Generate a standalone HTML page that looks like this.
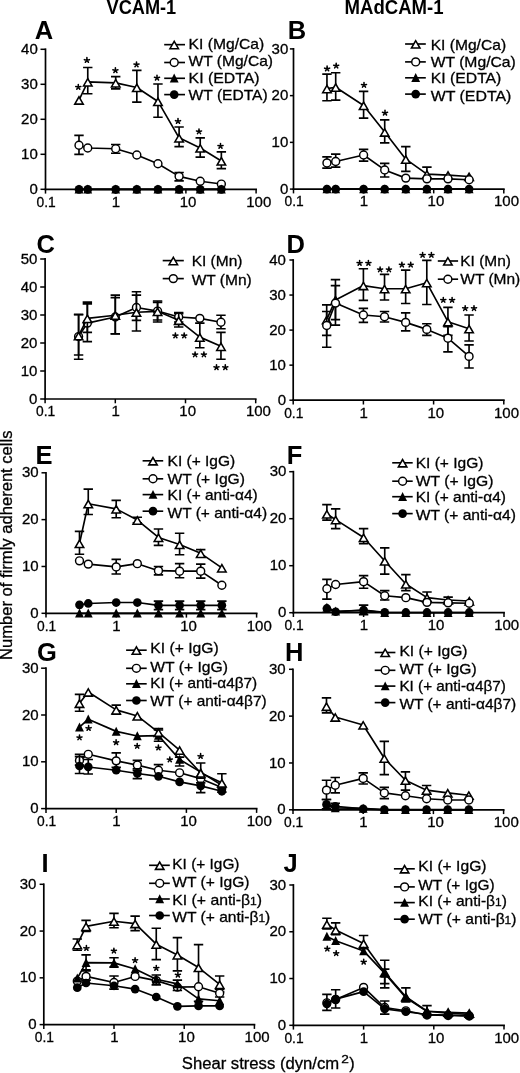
<!DOCTYPE html>
<html><head><meta charset="utf-8"><style>
html,body{margin:0;padding:0;background:#fff;}
svg{display:block;will-change:transform;}
text{font-family:"Liberation Sans",sans-serif;fill:#000;}
.r{stroke:#000;stroke-width:0.3px;}
</style></head><body>
<svg width="520" height="1073" viewBox="0 0 520 1073">
<rect width="520" height="1073" fill="#fff"/>
<path d="M45.5 190.2V48.4" stroke="#000" stroke-width="1.7" fill="none"/>
<path d="M44.6 189.3H257" stroke="#000" stroke-width="1.7" fill="none"/>
<path d="M40.5 189.3H45.5" stroke="#000" stroke-width="1.5"/>
<text transform="translate(37.77 193.96) scale(1 1)" font-size="15" class="r" text-anchor="end">0</text>
<path d="M40.5 154.3H45.5" stroke="#000" stroke-width="1.5"/>
<text transform="translate(37.77 158.96) scale(1 1)" font-size="15" class="r" text-anchor="end">10</text>
<path d="M40.5 119.3H45.5" stroke="#000" stroke-width="1.5"/>
<text transform="translate(37.77 123.96) scale(1 1)" font-size="15" class="r" text-anchor="end">20</text>
<path d="M40.5 84.3H45.5" stroke="#000" stroke-width="1.5"/>
<text transform="translate(37.77 88.96) scale(1 1)" font-size="15" class="r" text-anchor="end">30</text>
<path d="M40.5 49.3H45.5" stroke="#000" stroke-width="1.5"/>
<text transform="translate(37.77 53.96) scale(1 1)" font-size="15" class="r" text-anchor="end">40</text>
<path d="M45.5 189.3V193.6" stroke="#000" stroke-width="1.5"/>
<text x="46.1" y="206.6" font-size="15" class="r" text-anchor="middle" textLength="19.2" lengthAdjust="spacingAndGlyphs">0.1</text>
<path d="M115.7 189.3V193.6" stroke="#000" stroke-width="1.5"/>
<text x="116" y="206.6" font-size="15" class="r" text-anchor="middle">1</text>
<path d="M185.9 189.3V193.6" stroke="#000" stroke-width="1.5"/>
<text x="188.1" y="206.6" font-size="15" class="r" text-anchor="middle">10</text>
<path d="M256.1 189.3V193.6" stroke="#000" stroke-width="1.5"/>
<text x="258.8" y="206.6" font-size="15" class="r" text-anchor="middle">100</text>
<path d="M78.99 100.05 L87.76 81.85 L115.7 82.9 L136.83 87.45 L157.96 101.45 L179.1 137.85 L200.23 148 L221.36 160.95" stroke="#000" stroke-width="1.65" fill="none" stroke-linejoin="round"/>
<path d="M87.76 81.85V67.5 M83.06 67.5H92.46 M87.76 81.85V93.75 M83.06 93.75H92.46" stroke="#000" stroke-width="1.65" fill="none"/>
<path d="M115.7 82.9V76.6 M111 76.6H120.4 M115.7 82.9V88.85 M111 88.85H120.4" stroke="#000" stroke-width="1.65" fill="none"/>
<path d="M136.83 87.45V70.3 M132.13 70.3H141.53 M136.83 87.45V102.15 M132.13 102.15H141.53" stroke="#000" stroke-width="1.65" fill="none"/>
<path d="M157.96 101.45V83.95 M153.26 83.95H162.66 M157.96 101.45V117.2 M153.26 117.2H162.66" stroke="#000" stroke-width="1.65" fill="none"/>
<path d="M179.1 137.85V127 M174.4 127H183.8 M179.1 137.85V146.6 M174.4 146.6H183.8" stroke="#000" stroke-width="1.65" fill="none"/>
<path d="M200.23 148V137.85 M195.53 137.85H204.93 M200.23 148V157.1 M195.53 157.1H204.93" stroke="#000" stroke-width="1.65" fill="none"/>
<path d="M221.36 160.95V151.85 M216.66 151.85H226.06 M221.36 160.95V168.65 M216.66 168.65H226.06" stroke="#000" stroke-width="1.65" fill="none"/>
<polygon points="78.99,96.75 74.74,104.1 83.24,104.1" fill="#fff" stroke="#000" stroke-width="1.55" stroke-linejoin="miter"/>
<polygon points="87.76,78.55 83.51,85.9 92.01,85.9" fill="#fff" stroke="#000" stroke-width="1.55" stroke-linejoin="miter"/>
<polygon points="115.7,79.6 111.45,86.95 119.95,86.95" fill="#fff" stroke="#000" stroke-width="1.55" stroke-linejoin="miter"/>
<polygon points="136.83,84.15 132.58,91.5 141.08,91.5" fill="#fff" stroke="#000" stroke-width="1.55" stroke-linejoin="miter"/>
<polygon points="157.96,98.15 153.71,105.5 162.21,105.5" fill="#fff" stroke="#000" stroke-width="1.55" stroke-linejoin="miter"/>
<polygon points="179.1,134.55 174.85,141.9 183.35,141.9" fill="#fff" stroke="#000" stroke-width="1.55" stroke-linejoin="miter"/>
<polygon points="200.23,144.7 195.98,152.05 204.48,152.05" fill="#fff" stroke="#000" stroke-width="1.55" stroke-linejoin="miter"/>
<polygon points="221.36,157.65 217.11,165 225.61,165" fill="#fff" stroke="#000" stroke-width="1.55" stroke-linejoin="miter"/>
<path d="M78.99 145.2 L87.76 148 L115.7 148.7 L136.83 155 L157.96 163.75 L179.1 176.35 L200.23 181.25 L221.36 184.05" stroke="#000" stroke-width="1.65" fill="none" stroke-linejoin="round"/>
<path d="M78.99 145.2V135.4 M74.29 135.4H83.69 M78.99 145.2V154.3 M74.29 154.3H83.69" stroke="#000" stroke-width="1.65" fill="none"/>
<path d="M115.7 148.7V144.5 M111 144.5H120.4 M115.7 148.7V153.25 M111 153.25H120.4" stroke="#000" stroke-width="1.65" fill="none"/>
<path d="M179.1 176.35V172.5 M174.4 172.5H183.8 M179.1 176.35V180.9 M174.4 180.9H183.8" stroke="#000" stroke-width="1.65" fill="none"/>
<circle cx="78.99" cy="145.2" r="3.95" fill="#fff" stroke="#000" stroke-width="1.45"/>
<circle cx="87.76" cy="148" r="3.95" fill="#fff" stroke="#000" stroke-width="1.45"/>
<circle cx="115.7" cy="148.7" r="3.95" fill="#fff" stroke="#000" stroke-width="1.45"/>
<circle cx="136.83" cy="155" r="3.95" fill="#fff" stroke="#000" stroke-width="1.45"/>
<circle cx="157.96" cy="163.75" r="3.95" fill="#fff" stroke="#000" stroke-width="1.45"/>
<circle cx="179.1" cy="176.35" r="3.95" fill="#fff" stroke="#000" stroke-width="1.45"/>
<circle cx="200.23" cy="181.25" r="3.95" fill="#fff" stroke="#000" stroke-width="1.45"/>
<circle cx="221.36" cy="184.05" r="3.95" fill="#fff" stroke="#000" stroke-width="1.45"/>
<path d="M78.99 189.3 L87.76 189.3 L115.7 189.3 L136.83 189.3 L157.96 189.3 L179.1 189.3 L200.23 189.3 L221.36 189.3" stroke="#000" stroke-width="1.65" fill="none" stroke-linejoin="round"/>
<polygon points="78.99,184.6 74.54,193.55 83.44,193.55" fill="#000"/>
<polygon points="87.76,184.6 83.31,193.55 92.21,193.55" fill="#000"/>
<polygon points="115.7,184.6 111.25,193.55 120.15,193.55" fill="#000"/>
<polygon points="136.83,184.6 132.38,193.55 141.28,193.55" fill="#000"/>
<polygon points="157.96,184.6 153.51,193.55 162.41,193.55" fill="#000"/>
<polygon points="179.1,184.6 174.65,193.55 183.55,193.55" fill="#000"/>
<polygon points="200.23,184.6 195.78,193.55 204.68,193.55" fill="#000"/>
<polygon points="221.36,184.6 216.91,193.55 225.81,193.55" fill="#000"/>
<path d="M78.99 189.3 L87.76 189.3 L115.7 189.3 L136.83 189.3 L157.96 189.3 L179.1 189.3 L200.23 189.3 L221.36 189.3" stroke="#000" stroke-width="1.65" fill="none" stroke-linejoin="round"/>
<circle cx="78.99" cy="189.3" r="4.35" fill="#000"/>
<circle cx="87.76" cy="189.3" r="4.35" fill="#000"/>
<circle cx="115.7" cy="189.3" r="4.35" fill="#000"/>
<circle cx="136.83" cy="189.3" r="4.35" fill="#000"/>
<circle cx="157.96" cy="189.3" r="4.35" fill="#000"/>
<circle cx="179.1" cy="189.3" r="4.35" fill="#000"/>
<circle cx="200.23" cy="189.3" r="4.35" fill="#000"/>
<circle cx="221.36" cy="189.3" r="4.35" fill="#000"/>
<path d="M78.3 87.1L78.3 84.5M78.3 87.1L80.84 86.56M78.3 87.1L79.83 89.2M78.3 87.1L76.77 89.2M78.3 87.1L75.76 86.56" stroke="#000" stroke-width="1.55" stroke-linecap="round" fill="none"/>
<path d="M86.9 60.2L86.9 57.6M86.9 60.2L89.44 59.66M86.9 60.2L88.43 62.3M86.9 60.2L85.37 62.3M86.9 60.2L84.36 59.66" stroke="#000" stroke-width="1.55" stroke-linecap="round" fill="none"/>
<path d="M115.4 70.4L115.4 67.8M115.4 70.4L117.94 69.86M115.4 70.4L116.93 72.5M115.4 70.4L113.87 72.5M115.4 70.4L112.86 69.86" stroke="#000" stroke-width="1.55" stroke-linecap="round" fill="none"/>
<path d="M136.5 64.6L136.5 62M136.5 64.6L139.04 64.06M136.5 64.6L138.03 66.7M136.5 64.6L134.97 66.7M136.5 64.6L133.96 64.06" stroke="#000" stroke-width="1.55" stroke-linecap="round" fill="none"/>
<path d="M157 77.9L157 75.3M157 77.9L159.54 77.36M157 77.9L158.53 80M157 77.9L155.47 80M157 77.9L154.46 77.36" stroke="#000" stroke-width="1.55" stroke-linecap="round" fill="none"/>
<path d="M178 121.2L178 118.6M178 121.2L180.54 120.66M178 121.2L179.53 123.3M178 121.2L176.47 123.3M178 121.2L175.46 120.66" stroke="#000" stroke-width="1.55" stroke-linecap="round" fill="none"/>
<path d="M199 131.5L199 128.9M199 131.5L201.54 130.96M199 131.5L200.53 133.6M199 131.5L197.47 133.6M199 131.5L196.46 130.96" stroke="#000" stroke-width="1.55" stroke-linecap="round" fill="none"/>
<path d="M220.5 146.1L220.5 143.5M220.5 146.1L223.04 145.56M220.5 146.1L222.03 148.2M220.5 146.1L218.97 148.2M220.5 146.1L217.96 145.56" stroke="#000" stroke-width="1.55" stroke-linecap="round" fill="none"/>
<path d="M164.2 44.65H185" stroke="#000" stroke-width="1.65"/>
<polygon points="174.2,41.35 169.95,48.7 178.45,48.7" fill="#fff" stroke="#000" stroke-width="1.55" stroke-linejoin="miter"/>
<text x="188.6" y="48.56" font-size="15" class="r" textLength="75.6" lengthAdjust="spacingAndGlyphs">KI (Mg/Ca)</text>
<path d="M164.2 62.5H185" stroke="#000" stroke-width="1.65"/>
<circle cx="174.2" cy="62.5" r="3.95" fill="#fff" stroke="#000" stroke-width="1.45"/>
<text x="188.6" y="65.91" font-size="15" class="r" textLength="84.4" lengthAdjust="spacingAndGlyphs">WT (Mg/Ca)</text>
<path d="M164.2 78.3H185" stroke="#000" stroke-width="1.65"/>
<polygon points="174.2,73.6 169.75,82.55 178.65,82.55" fill="#000"/>
<text x="188.6" y="83.06" font-size="15" class="r" textLength="71" lengthAdjust="spacingAndGlyphs">KI (EDTA)</text>
<path d="M164.2 94.6H185" stroke="#000" stroke-width="1.65"/>
<circle cx="174.2" cy="94.6" r="4.35" fill="#000"/>
<text x="188.6" y="100.36" font-size="15" class="r" textLength="79.1" lengthAdjust="spacingAndGlyphs">WT (EDTA)</text>
<text x="34.8" y="39.2" font-size="25.5" font-weight="bold">A</text>
<path d="M293.5 190V48" stroke="#000" stroke-width="1.7" fill="none"/>
<path d="M292.6 189.1H504.7" stroke="#000" stroke-width="1.7" fill="none"/>
<path d="M289.9 189.1H293.5" stroke="#000" stroke-width="1.5"/>
<text transform="translate(288.27 193.76) scale(1 1)" font-size="15" class="r" text-anchor="end">0</text>
<path d="M289.9 142.37H293.5" stroke="#000" stroke-width="1.5"/>
<text transform="translate(288.27 147.03) scale(1 1)" font-size="15" class="r" text-anchor="end">10</text>
<path d="M289.9 95.63H293.5" stroke="#000" stroke-width="1.5"/>
<text transform="translate(288.27 100.29) scale(1 1)" font-size="15" class="r" text-anchor="end">20</text>
<path d="M289.9 48.9H293.5" stroke="#000" stroke-width="1.5"/>
<text transform="translate(288.27 53.56) scale(1 1)" font-size="15" class="r" text-anchor="end">30</text>
<path d="M293.5 189.1V193.4" stroke="#000" stroke-width="1.5"/>
<text x="294.1" y="206.4" font-size="15" class="r" text-anchor="middle" textLength="19.2" lengthAdjust="spacingAndGlyphs">0.1</text>
<path d="M363.6 189.1V193.4" stroke="#000" stroke-width="1.5"/>
<text x="363.9" y="206.4" font-size="15" class="r" text-anchor="middle">1</text>
<path d="M433.7 189.1V193.4" stroke="#000" stroke-width="1.5"/>
<text x="435.9" y="206.4" font-size="15" class="r" text-anchor="middle">10</text>
<path d="M503.8 189.1V193.4" stroke="#000" stroke-width="1.5"/>
<text x="506.5" y="206.4" font-size="15" class="r" text-anchor="middle">100</text>
<path d="M326.95 88.62 L335.7 87.22 L363.6 105.45 L384.7 132.09 L405.8 159.19 L426.91 174.15 L448.01 175.08 L469.11 176.48" stroke="#000" stroke-width="1.65" fill="none" stroke-linejoin="round"/>
<path d="M326.95 88.62V74.14 M322.25 74.14H331.65 M326.95 88.62V100.77 M322.25 100.77H331.65" stroke="#000" stroke-width="1.65" fill="none"/>
<path d="M335.7 87.22V72.73 M331 72.73H340.4 M335.7 87.22V100.07 M331 100.07H340.4" stroke="#000" stroke-width="1.65" fill="none"/>
<path d="M363.6 105.45V91.43 M358.9 91.43H368.3 M363.6 105.45V118.07 M358.9 118.07H368.3" stroke="#000" stroke-width="1.65" fill="none"/>
<path d="M384.7 132.09V119.93 M380 119.93H389.4 M384.7 132.09V142.83 M380 142.83H389.4" stroke="#000" stroke-width="1.65" fill="none"/>
<path d="M405.8 159.19V146.57 M401.1 146.57H410.5 M405.8 159.19V171.34 M401.1 171.34H410.5" stroke="#000" stroke-width="1.65" fill="none"/>
<path d="M426.91 174.15V167.14 M422.21 167.14H431.61" stroke="#000" stroke-width="1.65" fill="none"/>
<polygon points="326.95,85.32 322.7,92.67 331.2,92.67" fill="#fff" stroke="#000" stroke-width="1.55" stroke-linejoin="miter"/>
<polygon points="335.7,83.92 331.45,91.27 339.95,91.27" fill="#fff" stroke="#000" stroke-width="1.55" stroke-linejoin="miter"/>
<polygon points="363.6,102.15 359.35,109.5 367.85,109.5" fill="#fff" stroke="#000" stroke-width="1.55" stroke-linejoin="miter"/>
<polygon points="384.7,128.79 380.45,136.14 388.95,136.14" fill="#fff" stroke="#000" stroke-width="1.55" stroke-linejoin="miter"/>
<polygon points="405.8,155.89 401.55,163.24 410.05,163.24" fill="#fff" stroke="#000" stroke-width="1.55" stroke-linejoin="miter"/>
<polygon points="426.91,170.85 422.66,178.2 431.16,178.2" fill="#fff" stroke="#000" stroke-width="1.55" stroke-linejoin="miter"/>
<polygon points="448.01,171.78 443.76,179.13 452.26,179.13" fill="#fff" stroke="#000" stroke-width="1.55" stroke-linejoin="miter"/>
<polygon points="469.11,173.18 464.86,180.53 473.36,180.53" fill="#fff" stroke="#000" stroke-width="1.55" stroke-linejoin="miter"/>
<path d="M326.95 162.93 L335.7 161.53 L363.6 154.98 L384.7 169.94 L405.8 178.12 L426.91 178.82 L448.01 178.82 L469.11 179.75" stroke="#000" stroke-width="1.65" fill="none" stroke-linejoin="round"/>
<path d="M326.95 162.93V156.85 M322.25 156.85H331.65 M326.95 162.93V168.07 M322.25 168.07H331.65" stroke="#000" stroke-width="1.65" fill="none"/>
<path d="M335.7 161.53V154.05 M331 154.05H340.4 M335.7 161.53V167.14 M331 167.14H340.4" stroke="#000" stroke-width="1.65" fill="none"/>
<path d="M363.6 154.98V149.38 M358.9 149.38H368.3 M363.6 154.98V161.06 M358.9 161.06H368.3" stroke="#000" stroke-width="1.65" fill="none"/>
<path d="M384.7 169.94V163.4 M380 163.4H389.4 M384.7 169.94V176.95 M380 176.95H389.4" stroke="#000" stroke-width="1.65" fill="none"/>
<circle cx="326.95" cy="162.93" r="3.95" fill="#fff" stroke="#000" stroke-width="1.45"/>
<circle cx="335.7" cy="161.53" r="3.95" fill="#fff" stroke="#000" stroke-width="1.45"/>
<circle cx="363.6" cy="154.98" r="3.95" fill="#fff" stroke="#000" stroke-width="1.45"/>
<circle cx="384.7" cy="169.94" r="3.95" fill="#fff" stroke="#000" stroke-width="1.45"/>
<circle cx="405.8" cy="178.12" r="3.95" fill="#fff" stroke="#000" stroke-width="1.45"/>
<circle cx="426.91" cy="178.82" r="3.95" fill="#fff" stroke="#000" stroke-width="1.45"/>
<circle cx="448.01" cy="178.82" r="3.95" fill="#fff" stroke="#000" stroke-width="1.45"/>
<circle cx="469.11" cy="179.75" r="3.95" fill="#fff" stroke="#000" stroke-width="1.45"/>
<path d="M326.95 189.1 L335.7 189.1 L363.6 189.1 L384.7 189.1 L405.8 189.1 L426.91 189.1 L448.01 189.1 L469.11 189.1" stroke="#000" stroke-width="1.65" fill="none" stroke-linejoin="round"/>
<polygon points="326.95,184.4 322.5,193.35 331.4,193.35" fill="#000"/>
<polygon points="335.7,184.4 331.25,193.35 340.15,193.35" fill="#000"/>
<polygon points="363.6,184.4 359.15,193.35 368.05,193.35" fill="#000"/>
<polygon points="384.7,184.4 380.25,193.35 389.15,193.35" fill="#000"/>
<polygon points="405.8,184.4 401.35,193.35 410.25,193.35" fill="#000"/>
<polygon points="426.91,184.4 422.46,193.35 431.36,193.35" fill="#000"/>
<polygon points="448.01,184.4 443.56,193.35 452.46,193.35" fill="#000"/>
<polygon points="469.11,184.4 464.66,193.35 473.56,193.35" fill="#000"/>
<path d="M326.95 189.1 L335.7 189.1 L363.6 189.1 L384.7 189.1 L405.8 189.1 L426.91 189.1 L448.01 189.1 L469.11 189.1" stroke="#000" stroke-width="1.65" fill="none" stroke-linejoin="round"/>
<circle cx="326.95" cy="189.1" r="4.35" fill="#000"/>
<circle cx="335.7" cy="189.1" r="4.35" fill="#000"/>
<circle cx="363.6" cy="189.1" r="4.35" fill="#000"/>
<circle cx="384.7" cy="189.1" r="4.35" fill="#000"/>
<circle cx="405.8" cy="189.1" r="4.35" fill="#000"/>
<circle cx="426.91" cy="189.1" r="4.35" fill="#000"/>
<circle cx="448.01" cy="189.1" r="4.35" fill="#000"/>
<circle cx="469.11" cy="189.1" r="4.35" fill="#000"/>
<path d="M327.1 68.7L327.1 66.1M327.1 68.7L329.64 68.16M327.1 68.7L328.63 70.8M327.1 68.7L325.57 70.8M327.1 68.7L324.56 68.16" stroke="#000" stroke-width="1.55" stroke-linecap="round" fill="none"/>
<path d="M336.2 65.8L336.2 63.2M336.2 65.8L338.74 65.26M336.2 65.8L337.73 67.9M336.2 65.8L334.67 67.9M336.2 65.8L333.66 65.26" stroke="#000" stroke-width="1.55" stroke-linecap="round" fill="none"/>
<path d="M364 85L364 82.4M364 85L366.54 84.46M364 85L365.53 87.1M364 85L362.47 87.1M364 85L361.46 84.46" stroke="#000" stroke-width="1.55" stroke-linecap="round" fill="none"/>
<path d="M385 112.9L385 110.3M385 112.9L387.54 112.36M385 112.9L386.53 115M385 112.9L383.47 115M385 112.9L382.46 112.36" stroke="#000" stroke-width="1.55" stroke-linecap="round" fill="none"/>
<path d="M405.1 44H425.8" stroke="#000" stroke-width="1.65"/>
<polygon points="415.7,40.7 411.45,48.05 419.95,48.05" fill="#fff" stroke="#000" stroke-width="1.55" stroke-linejoin="miter"/>
<text x="430.7" y="49.96" font-size="15" class="r" textLength="75.4" lengthAdjust="spacingAndGlyphs">KI (Mg/Ca)</text>
<path d="M405.1 61.9H425.8" stroke="#000" stroke-width="1.65"/>
<circle cx="415.7" cy="61.9" r="3.95" fill="#fff" stroke="#000" stroke-width="1.45"/>
<text x="430.7" y="66.96" font-size="15" class="r" textLength="85.1" lengthAdjust="spacingAndGlyphs">WT (Mg/Ca)</text>
<path d="M405.1 77.8H425.8" stroke="#000" stroke-width="1.65"/>
<polygon points="415.7,73.1 411.25,82.05 420.15,82.05" fill="#000"/>
<text x="430.7" y="83.36" font-size="15" class="r" textLength="70.7" lengthAdjust="spacingAndGlyphs">KI (EDTA)</text>
<path d="M405.1 94.1H425.8" stroke="#000" stroke-width="1.65"/>
<circle cx="415.7" cy="94.1" r="4.35" fill="#000"/>
<text x="430.7" y="101.26" font-size="15" class="r" textLength="80.7" lengthAdjust="spacingAndGlyphs">WT (EDTA)</text>
<text x="287.7" y="39.1" font-size="25.5" font-weight="bold">B</text>
<path d="M45.1 399.9V258.1" stroke="#000" stroke-width="1.7" fill="none"/>
<path d="M44.2 399H256.6" stroke="#000" stroke-width="1.7" fill="none"/>
<path d="M40.2 399H45.1" stroke="#000" stroke-width="1.5"/>
<text transform="translate(37.37 403.66) scale(1 1)" font-size="15" class="r" text-anchor="end">0</text>
<path d="M40.2 371H45.1" stroke="#000" stroke-width="1.5"/>
<text transform="translate(37.37 375.66) scale(1 1)" font-size="15" class="r" text-anchor="end">10</text>
<path d="M40.2 343H45.1" stroke="#000" stroke-width="1.5"/>
<text transform="translate(37.37 347.66) scale(1 1)" font-size="15" class="r" text-anchor="end">20</text>
<path d="M40.2 315H45.1" stroke="#000" stroke-width="1.5"/>
<text transform="translate(37.37 319.66) scale(1 1)" font-size="15" class="r" text-anchor="end">30</text>
<path d="M40.2 287H45.1" stroke="#000" stroke-width="1.5"/>
<text transform="translate(37.37 291.66) scale(1 1)" font-size="15" class="r" text-anchor="end">40</text>
<path d="M40.2 259H45.1" stroke="#000" stroke-width="1.5"/>
<text transform="translate(37.37 263.66) scale(1 1)" font-size="15" class="r" text-anchor="end">50</text>
<path d="M45.1 399V403.3" stroke="#000" stroke-width="1.5"/>
<text x="45.7" y="416.3" font-size="15" class="r" text-anchor="middle" textLength="19.2" lengthAdjust="spacingAndGlyphs">0.1</text>
<path d="M115.3 399V403.3" stroke="#000" stroke-width="1.5"/>
<text x="115.6" y="416.3" font-size="15" class="r" text-anchor="middle">1</text>
<path d="M185.5 399V403.3" stroke="#000" stroke-width="1.5"/>
<text x="187.7" y="416.3" font-size="15" class="r" text-anchor="middle">10</text>
<path d="M255.7 399V403.3" stroke="#000" stroke-width="1.5"/>
<text x="258.4" y="416.3" font-size="15" class="r" text-anchor="middle">100</text>
<path d="M78.59 336.56 L87.36 323.12 L115.3 316.96 L136.43 307.44 L157.56 311.08 L178.7 316.96 L199.83 318.36 L220.96 322.28" stroke="#000" stroke-width="1.65" fill="none" stroke-linejoin="round"/>
<path d="M78.59 336.56V314.72 M73.89 314.72H83.29 M78.59 336.56V355.04 M73.89 355.04H83.29" stroke="#000" stroke-width="1.65" fill="none"/>
<path d="M87.36 323.12V303.8 M82.66 303.8H92.06 M87.36 323.12V332.36 M82.66 332.36H92.06" stroke="#000" stroke-width="1.65" fill="none"/>
<path d="M115.3 316.96V297.64 M110.6 297.64H120 M115.3 316.96V333.76 M110.6 333.76H120" stroke="#000" stroke-width="1.65" fill="none"/>
<path d="M136.43 307.44V291.76 M131.73 291.76H141.13 M136.43 307.44V320.32 M131.73 320.32H141.13" stroke="#000" stroke-width="1.65" fill="none"/>
<path d="M157.56 311.08V302.4 M152.86 302.4H162.26 M157.56 311.08V320.04 M152.86 320.04H162.26" stroke="#000" stroke-width="1.65" fill="none"/>
<path d="M178.7 316.96V313.6 M174 313.6H183.4 M178.7 316.96V322 M174 322H183.4" stroke="#000" stroke-width="1.65" fill="none"/>
<path d="M220.96 322.28V315.28 M216.26 315.28H225.66 M220.96 322.28V328.72 M216.26 328.72H225.66" stroke="#000" stroke-width="1.65" fill="none"/>
<circle cx="78.59" cy="336.56" r="3.95" fill="#fff" stroke="#000" stroke-width="1.45"/>
<circle cx="87.36" cy="323.12" r="3.95" fill="#fff" stroke="#000" stroke-width="1.45"/>
<circle cx="115.3" cy="316.96" r="3.95" fill="#fff" stroke="#000" stroke-width="1.45"/>
<circle cx="136.43" cy="307.44" r="3.95" fill="#fff" stroke="#000" stroke-width="1.45"/>
<circle cx="157.56" cy="311.08" r="3.95" fill="#fff" stroke="#000" stroke-width="1.45"/>
<circle cx="178.7" cy="316.96" r="3.95" fill="#fff" stroke="#000" stroke-width="1.45"/>
<circle cx="199.83" cy="318.36" r="3.95" fill="#fff" stroke="#000" stroke-width="1.45"/>
<circle cx="220.96" cy="322.28" r="3.95" fill="#fff" stroke="#000" stroke-width="1.45"/>
<path d="M78.59 335.72 L87.36 318.36 L115.3 315.28 L136.43 312.2 L157.56 311.36 L178.7 320.32 L199.83 337.12 L220.96 346.36" stroke="#000" stroke-width="1.65" fill="none" stroke-linejoin="round"/>
<path d="M78.59 335.72V314.44 M73.89 314.44H83.29 M78.59 335.72V359.24 M73.89 359.24H83.29" stroke="#000" stroke-width="1.65" fill="none"/>
<path d="M87.36 318.36V302.12 M82.66 302.12H92.06 M87.36 318.36V341.6 M82.66 341.6H92.06" stroke="#000" stroke-width="1.65" fill="none"/>
<path d="M115.3 315.28V295.12 M110.6 295.12H120 M115.3 315.28V334.04 M110.6 334.04H120" stroke="#000" stroke-width="1.65" fill="none"/>
<path d="M136.43 312.2V295.12 M131.73 295.12H141.13 M136.43 312.2V330.96 M131.73 330.96H141.13" stroke="#000" stroke-width="1.65" fill="none"/>
<path d="M157.56 311.36V301 M152.86 301H162.26 M157.56 311.36V322 M152.86 322H162.26" stroke="#000" stroke-width="1.65" fill="none"/>
<path d="M178.7 320.32V312.48 M174 312.48H183.4 M178.7 320.32V327.04 M174 327.04H183.4" stroke="#000" stroke-width="1.65" fill="none"/>
<path d="M199.83 337.12V323.12 M195.13 323.12H204.53 M199.83 337.12V347.76 M195.13 347.76H204.53" stroke="#000" stroke-width="1.65" fill="none"/>
<path d="M220.96 346.36V332.36 M216.26 332.36H225.66 M220.96 346.36V359.24 M216.26 359.24H225.66" stroke="#000" stroke-width="1.65" fill="none"/>
<polygon points="78.59,332.42 74.34,339.77 82.84,339.77" fill="#fff" stroke="#000" stroke-width="1.55" stroke-linejoin="miter"/>
<polygon points="87.36,315.06 83.11,322.41 91.61,322.41" fill="#fff" stroke="#000" stroke-width="1.55" stroke-linejoin="miter"/>
<polygon points="115.3,311.98 111.05,319.33 119.55,319.33" fill="#fff" stroke="#000" stroke-width="1.55" stroke-linejoin="miter"/>
<polygon points="136.43,308.9 132.18,316.25 140.68,316.25" fill="#fff" stroke="#000" stroke-width="1.55" stroke-linejoin="miter"/>
<polygon points="157.56,308.06 153.31,315.41 161.81,315.41" fill="#fff" stroke="#000" stroke-width="1.55" stroke-linejoin="miter"/>
<polygon points="178.7,317.02 174.45,324.37 182.95,324.37" fill="#fff" stroke="#000" stroke-width="1.55" stroke-linejoin="miter"/>
<polygon points="199.83,333.82 195.58,341.17 204.08,341.17" fill="#fff" stroke="#000" stroke-width="1.55" stroke-linejoin="miter"/>
<polygon points="220.96,343.06 216.71,350.41 225.21,350.41" fill="#fff" stroke="#000" stroke-width="1.55" stroke-linejoin="miter"/>
<path d="M175.4 335.6L175.4 333M175.4 335.6L177.94 335.06M175.4 335.6L176.93 337.7M175.4 335.6L173.87 337.7M175.4 335.6L172.86 335.06" stroke="#000" stroke-width="1.55" stroke-linecap="round" fill="none"/>
<path d="M184.2 335.6L184.2 333M184.2 335.6L186.74 335.06M184.2 335.6L185.73 337.7M184.2 335.6L182.67 337.7M184.2 335.6L181.66 335.06" stroke="#000" stroke-width="1.55" stroke-linecap="round" fill="none"/>
<path d="M195.1 354.5L195.1 351.9M195.1 354.5L197.64 353.96M195.1 354.5L196.63 356.6M195.1 354.5L193.57 356.6M195.1 354.5L192.56 353.96" stroke="#000" stroke-width="1.55" stroke-linecap="round" fill="none"/>
<path d="M203.9 354.5L203.9 351.9M203.9 354.5L206.44 353.96M203.9 354.5L205.43 356.6M203.9 354.5L202.37 356.6M203.9 354.5L201.36 353.96" stroke="#000" stroke-width="1.55" stroke-linecap="round" fill="none"/>
<path d="M216.5 367.4L216.5 364.8M216.5 367.4L219.04 366.86M216.5 367.4L218.03 369.5M216.5 367.4L214.97 369.5M216.5 367.4L213.96 366.86" stroke="#000" stroke-width="1.55" stroke-linecap="round" fill="none"/>
<path d="M225.3 367.4L225.3 364.8M225.3 367.4L227.84 366.86M225.3 367.4L226.83 369.5M225.3 367.4L223.77 369.5M225.3 367.4L222.76 366.86" stroke="#000" stroke-width="1.55" stroke-linecap="round" fill="none"/>
<path d="M162.7 260.6H183.8" stroke="#000" stroke-width="1.65"/>
<polygon points="173.3,257.3 169.05,264.65 177.55,264.65" fill="#fff" stroke="#000" stroke-width="1.55" stroke-linejoin="miter"/>
<text x="191.7" y="265.76" font-size="15" class="r" textLength="50.7" lengthAdjust="spacingAndGlyphs">KI (Mn)</text>
<path d="M162.7 278.6H183.8" stroke="#000" stroke-width="1.65"/>
<circle cx="173.3" cy="278.6" r="3.95" fill="#fff" stroke="#000" stroke-width="1.45"/>
<text x="191.7" y="284.66" font-size="15" class="r" textLength="60.1" lengthAdjust="spacingAndGlyphs">WT (Mn)</text>
<text x="36.4" y="252.6" font-size="25.5" font-weight="bold">C</text>
<path d="M293.2 401.1V259.1" stroke="#000" stroke-width="1.7" fill="none"/>
<path d="M292.3 400.2H504.7" stroke="#000" stroke-width="1.7" fill="none"/>
<path d="M289.4 400.2H293.2" stroke="#000" stroke-width="1.5"/>
<text transform="translate(285.97 404.86) scale(1 1)" font-size="15" class="r" text-anchor="end">0</text>
<path d="M289.4 365.15H293.2" stroke="#000" stroke-width="1.5"/>
<text transform="translate(285.97 369.81) scale(1 1)" font-size="15" class="r" text-anchor="end">10</text>
<path d="M289.4 330.1H293.2" stroke="#000" stroke-width="1.5"/>
<text transform="translate(285.97 334.76) scale(1 1)" font-size="15" class="r" text-anchor="end">20</text>
<path d="M289.4 295.05H293.2" stroke="#000" stroke-width="1.5"/>
<text transform="translate(285.97 299.71) scale(1 1)" font-size="15" class="r" text-anchor="end">30</text>
<path d="M289.4 260H293.2" stroke="#000" stroke-width="1.5"/>
<text transform="translate(285.97 264.66) scale(1 1)" font-size="15" class="r" text-anchor="end">40</text>
<path d="M293.2 400.2V404.5" stroke="#000" stroke-width="1.5"/>
<text x="293.8" y="417.5" font-size="15" class="r" text-anchor="middle" textLength="19.2" lengthAdjust="spacingAndGlyphs">0.1</text>
<path d="M363.4 400.2V404.5" stroke="#000" stroke-width="1.5"/>
<text x="363.7" y="417.5" font-size="15" class="r" text-anchor="middle">1</text>
<path d="M433.6 400.2V404.5" stroke="#000" stroke-width="1.5"/>
<text x="435.8" y="417.5" font-size="15" class="r" text-anchor="middle">10</text>
<path d="M503.8 400.2V404.5" stroke="#000" stroke-width="1.5"/>
<text x="506.5" y="417.5" font-size="15" class="r" text-anchor="middle">100</text>
<path d="M326.69 319.58 L335.46 299.96 L363.4 285.59 L384.53 288.74 L405.66 288.74 L426.8 282.78 L447.93 321.69 L469.06 328.7" stroke="#000" stroke-width="1.65" fill="none" stroke-linejoin="round"/>
<path d="M326.69 319.58V304.86 M321.99 304.86H331.39 M326.69 319.58V335.36 M321.99 335.36H331.39" stroke="#000" stroke-width="1.65" fill="none"/>
<path d="M335.46 299.96V279.63 M330.76 279.63H340.16 M335.46 299.96V325.19 M330.76 325.19H340.16" stroke="#000" stroke-width="1.65" fill="none"/>
<path d="M363.4 285.59V268.76 M358.7 268.76H368.1 M363.4 285.59V300.31 M358.7 300.31H368.1" stroke="#000" stroke-width="1.65" fill="none"/>
<path d="M384.53 288.74V274.37 M379.83 274.37H389.23 M384.53 288.74V299.96 M379.83 299.96H389.23" stroke="#000" stroke-width="1.65" fill="none"/>
<path d="M405.66 288.74V270.16 M400.96 270.16H410.36 M405.66 288.74V303.46 M400.96 303.46H410.36" stroke="#000" stroke-width="1.65" fill="none"/>
<path d="M426.8 282.78V260.35 M422.1 260.35H431.5 M426.8 282.78V304.51 M422.1 304.51H431.5" stroke="#000" stroke-width="1.65" fill="none"/>
<path d="M447.93 321.69V307.32 M443.23 307.32H452.63 M447.93 321.69V335.36 M443.23 335.36H452.63" stroke="#000" stroke-width="1.65" fill="none"/>
<path d="M469.06 328.7V315.03 M464.36 315.03H473.76 M469.06 328.7V340.97 M464.36 340.97H473.76" stroke="#000" stroke-width="1.65" fill="none"/>
<polygon points="326.69,316.28 322.44,323.63 330.94,323.63" fill="#fff" stroke="#000" stroke-width="1.55" stroke-linejoin="miter"/>
<polygon points="335.46,296.66 331.21,304.01 339.71,304.01" fill="#fff" stroke="#000" stroke-width="1.55" stroke-linejoin="miter"/>
<polygon points="363.4,282.29 359.15,289.64 367.65,289.64" fill="#fff" stroke="#000" stroke-width="1.55" stroke-linejoin="miter"/>
<polygon points="384.53,285.44 380.28,292.79 388.78,292.79" fill="#fff" stroke="#000" stroke-width="1.55" stroke-linejoin="miter"/>
<polygon points="405.66,285.44 401.41,292.79 409.91,292.79" fill="#fff" stroke="#000" stroke-width="1.55" stroke-linejoin="miter"/>
<polygon points="426.8,279.48 422.55,286.83 431.05,286.83" fill="#fff" stroke="#000" stroke-width="1.55" stroke-linejoin="miter"/>
<polygon points="447.93,318.39 443.68,325.74 452.18,325.74" fill="#fff" stroke="#000" stroke-width="1.55" stroke-linejoin="miter"/>
<polygon points="469.06,325.4 464.81,332.75 473.31,332.75" fill="#fff" stroke="#000" stroke-width="1.55" stroke-linejoin="miter"/>
<path d="M326.69 325.54 L335.46 303.11 L363.4 315.03 L384.53 316.78 L405.66 322.39 L426.8 329.4 L447.93 338.16 L469.06 356.39" stroke="#000" stroke-width="1.65" fill="none" stroke-linejoin="round"/>
<path d="M326.69 325.54V311.52 M321.99 311.52H331.39 M326.69 325.54V347.27 M321.99 347.27H331.39" stroke="#000" stroke-width="1.65" fill="none"/>
<path d="M335.46 303.11V285.59 M330.76 285.59H340.16 M335.46 303.11V319.58 M330.76 319.58H340.16" stroke="#000" stroke-width="1.65" fill="none"/>
<path d="M363.4 315.03V308.37 M358.7 308.37H368.1 M363.4 315.03V322.39 M358.7 322.39H368.1" stroke="#000" stroke-width="1.65" fill="none"/>
<path d="M384.53 316.78V311.52 M379.83 311.52H389.23 M384.53 316.78V322.04 M379.83 322.04H389.23" stroke="#000" stroke-width="1.65" fill="none"/>
<path d="M405.66 322.39V312.93 M400.96 312.93H410.36 M405.66 322.39V330.8 M400.96 330.8H410.36" stroke="#000" stroke-width="1.65" fill="none"/>
<path d="M426.8 329.4V323.79 M422.1 323.79H431.5 M426.8 329.4V335.36 M422.1 335.36H431.5" stroke="#000" stroke-width="1.65" fill="none"/>
<path d="M447.93 338.16V326.59 M443.23 326.59H452.63 M447.93 338.16V351.83 M443.23 351.83H452.63" stroke="#000" stroke-width="1.65" fill="none"/>
<path d="M469.06 356.39V344.82 M464.36 344.82H473.76 M469.06 356.39V367.95 M464.36 367.95H473.76" stroke="#000" stroke-width="1.65" fill="none"/>
<circle cx="326.69" cy="325.54" r="3.95" fill="#fff" stroke="#000" stroke-width="1.45"/>
<circle cx="335.46" cy="303.11" r="3.95" fill="#fff" stroke="#000" stroke-width="1.45"/>
<circle cx="363.4" cy="315.03" r="3.95" fill="#fff" stroke="#000" stroke-width="1.45"/>
<circle cx="384.53" cy="316.78" r="3.95" fill="#fff" stroke="#000" stroke-width="1.45"/>
<circle cx="405.66" cy="322.39" r="3.95" fill="#fff" stroke="#000" stroke-width="1.45"/>
<circle cx="426.8" cy="329.4" r="3.95" fill="#fff" stroke="#000" stroke-width="1.45"/>
<circle cx="447.93" cy="338.16" r="3.95" fill="#fff" stroke="#000" stroke-width="1.45"/>
<circle cx="469.06" cy="356.39" r="3.95" fill="#fff" stroke="#000" stroke-width="1.45"/>
<path d="M359.6 263.1L359.6 260.5M359.6 263.1L362.14 262.56M359.6 263.1L361.13 265.2M359.6 263.1L358.07 265.2M359.6 263.1L357.06 262.56" stroke="#000" stroke-width="1.55" stroke-linecap="round" fill="none"/>
<path d="M368.4 263.1L368.4 260.5M368.4 263.1L370.94 262.56M368.4 263.1L369.93 265.2M368.4 263.1L366.87 265.2M368.4 263.1L365.86 262.56" stroke="#000" stroke-width="1.55" stroke-linecap="round" fill="none"/>
<path d="M380.1 269.5L380.1 266.9M380.1 269.5L382.64 268.96M380.1 269.5L381.63 271.6M380.1 269.5L378.57 271.6M380.1 269.5L377.56 268.96" stroke="#000" stroke-width="1.55" stroke-linecap="round" fill="none"/>
<path d="M388.9 269.5L388.9 266.9M388.9 269.5L391.44 268.96M388.9 269.5L390.43 271.6M388.9 269.5L387.37 271.6M388.9 269.5L386.36 268.96" stroke="#000" stroke-width="1.55" stroke-linecap="round" fill="none"/>
<path d="M401.9 264.8L401.9 262.2M401.9 264.8L404.44 264.26M401.9 264.8L403.43 266.9M401.9 264.8L400.37 266.9M401.9 264.8L399.36 264.26" stroke="#000" stroke-width="1.55" stroke-linecap="round" fill="none"/>
<path d="M410.7 264.8L410.7 262.2M410.7 264.8L413.24 264.26M410.7 264.8L412.23 266.9M410.7 264.8L409.17 266.9M410.7 264.8L408.16 264.26" stroke="#000" stroke-width="1.55" stroke-linecap="round" fill="none"/>
<path d="M422.6 255L422.6 252.4M422.6 255L425.14 254.46M422.6 255L424.13 257.1M422.6 255L421.07 257.1M422.6 255L420.06 254.46" stroke="#000" stroke-width="1.55" stroke-linecap="round" fill="none"/>
<path d="M431.4 255L431.4 252.4M431.4 255L433.94 254.46M431.4 255L432.93 257.1M431.4 255L429.87 257.1M431.4 255L428.86 254.46" stroke="#000" stroke-width="1.55" stroke-linecap="round" fill="none"/>
<path d="M443.3 300L443.3 297.4M443.3 300L445.84 299.46M443.3 300L444.83 302.1M443.3 300L441.77 302.1M443.3 300L440.76 299.46" stroke="#000" stroke-width="1.55" stroke-linecap="round" fill="none"/>
<path d="M452.1 300L452.1 297.4M452.1 300L454.64 299.46M452.1 300L453.63 302.1M452.1 300L450.57 302.1M452.1 300L449.56 299.46" stroke="#000" stroke-width="1.55" stroke-linecap="round" fill="none"/>
<path d="M465.2 308.3L465.2 305.7M465.2 308.3L467.74 307.76M465.2 308.3L466.73 310.4M465.2 308.3L463.67 310.4M465.2 308.3L462.66 307.76" stroke="#000" stroke-width="1.55" stroke-linecap="round" fill="none"/>
<path d="M474 308.3L474 305.7M474 308.3L476.54 307.76M474 308.3L475.53 310.4M474 308.3L472.47 310.4M474 308.3L471.46 307.76" stroke="#000" stroke-width="1.55" stroke-linecap="round" fill="none"/>
<path d="M437.8 261H458.1" stroke="#000" stroke-width="1.65"/>
<polygon points="447.9,257.7 443.65,265.05 452.15,265.05" fill="#fff" stroke="#000" stroke-width="1.55" stroke-linejoin="miter"/>
<text x="460.3" y="265.96" font-size="15" class="r" textLength="50.6" lengthAdjust="spacingAndGlyphs">KI (Mn)</text>
<path d="M437.8 279.2H458.1" stroke="#000" stroke-width="1.65"/>
<circle cx="447.9" cy="279.2" r="3.95" fill="#fff" stroke="#000" stroke-width="1.45"/>
<text x="460.3" y="284.36" font-size="15" class="r" textLength="59.9" lengthAdjust="spacingAndGlyphs">WT (Mn)</text>
<text x="286.4" y="252.8" font-size="25.5" font-weight="bold">D</text>
<path d="M46 614.2V471.9" stroke="#000" stroke-width="1.7" fill="none"/>
<path d="M45.1 613.3H257.5" stroke="#000" stroke-width="1.7" fill="none"/>
<path d="M41.5 613.3H46" stroke="#000" stroke-width="1.5"/>
<text transform="translate(38.67 617.96) scale(1 1)" font-size="15" class="r" text-anchor="end">0</text>
<path d="M41.5 566.47H46" stroke="#000" stroke-width="1.5"/>
<text transform="translate(38.67 571.13) scale(1 1)" font-size="15" class="r" text-anchor="end">10</text>
<path d="M41.5 519.63H46" stroke="#000" stroke-width="1.5"/>
<text transform="translate(38.67 524.29) scale(1 1)" font-size="15" class="r" text-anchor="end">20</text>
<path d="M41.5 472.8H46" stroke="#000" stroke-width="1.5"/>
<text transform="translate(38.67 477.46) scale(1 1)" font-size="15" class="r" text-anchor="end">30</text>
<path d="M46 613.3V617.6" stroke="#000" stroke-width="1.5"/>
<text x="46.6" y="630.6" font-size="15" class="r" text-anchor="middle" textLength="19.2" lengthAdjust="spacingAndGlyphs">0.1</text>
<path d="M116.2 613.3V617.6" stroke="#000" stroke-width="1.5"/>
<text x="116.5" y="630.6" font-size="15" class="r" text-anchor="middle">1</text>
<path d="M186.4 613.3V617.6" stroke="#000" stroke-width="1.5"/>
<text x="188.6" y="630.6" font-size="15" class="r" text-anchor="middle">10</text>
<path d="M256.6 613.3V617.6" stroke="#000" stroke-width="1.5"/>
<text x="259.3" y="630.6" font-size="15" class="r" text-anchor="middle">100</text>
<path d="M79.49 543.52 L88.26 503.71 L116.2 508.86 L137.33 520.1 L158.46 537.43 L179.6 544.45 L200.73 553.35 L221.86 567.87" stroke="#000" stroke-width="1.65" fill="none" stroke-linejoin="round"/>
<path d="M79.49 543.52V531.34 M74.79 531.34H84.19 M79.49 543.52V554.29 M74.79 554.29H84.19" stroke="#000" stroke-width="1.65" fill="none"/>
<path d="M88.26 503.71V489.19 M83.56 489.19H92.96 M88.26 503.71V514.48 M83.56 514.48H92.96" stroke="#000" stroke-width="1.65" fill="none"/>
<path d="M116.2 508.86V500.43 M111.5 500.43H120.9 M116.2 508.86V517.76 M111.5 517.76H120.9" stroke="#000" stroke-width="1.65" fill="none"/>
<path d="M137.33 520.1V517.29 M132.63 517.29H142.03 M137.33 520.1V522.91 M132.63 522.91H142.03" stroke="#000" stroke-width="1.65" fill="none"/>
<path d="M158.46 537.43V529 M153.76 529H163.16 M158.46 537.43V545.39 M153.76 545.39H163.16" stroke="#000" stroke-width="1.65" fill="none"/>
<path d="M179.6 544.45V533.21 M174.9 533.21H184.3 M179.6 544.45V554.76 M174.9 554.76H184.3" stroke="#000" stroke-width="1.65" fill="none"/>
<path d="M200.73 553.35V549.61 M196.03 549.61H205.43 M200.73 553.35V557.1 M196.03 557.1H205.43" stroke="#000" stroke-width="1.65" fill="none"/>
<polygon points="79.49,540.22 75.24,547.57 83.74,547.57" fill="#fff" stroke="#000" stroke-width="1.55" stroke-linejoin="miter"/>
<polygon points="88.26,500.41 84.01,507.76 92.51,507.76" fill="#fff" stroke="#000" stroke-width="1.55" stroke-linejoin="miter"/>
<polygon points="116.2,505.56 111.95,512.91 120.45,512.91" fill="#fff" stroke="#000" stroke-width="1.55" stroke-linejoin="miter"/>
<polygon points="137.33,516.8 133.08,524.15 141.58,524.15" fill="#fff" stroke="#000" stroke-width="1.55" stroke-linejoin="miter"/>
<polygon points="158.46,534.13 154.21,541.48 162.71,541.48" fill="#fff" stroke="#000" stroke-width="1.55" stroke-linejoin="miter"/>
<polygon points="179.6,541.15 175.35,548.5 183.85,548.5" fill="#fff" stroke="#000" stroke-width="1.55" stroke-linejoin="miter"/>
<polygon points="200.73,550.05 196.48,557.4 204.98,557.4" fill="#fff" stroke="#000" stroke-width="1.55" stroke-linejoin="miter"/>
<polygon points="221.86,564.57 217.61,571.92 226.11,571.92" fill="#fff" stroke="#000" stroke-width="1.55" stroke-linejoin="miter"/>
<path d="M79.49 560.85 L88.26 564.12 L116.2 566.93 L137.33 563.66 L158.46 570.68 L179.6 571.15 L200.73 571.15 L221.86 585.2" stroke="#000" stroke-width="1.65" fill="none" stroke-linejoin="round"/>
<path d="M116.2 566.93V559.44 M111.5 559.44H120.9 M116.2 566.93V573.96 M111.5 573.96H120.9" stroke="#000" stroke-width="1.65" fill="none"/>
<path d="M158.46 570.68V566.47 M153.76 566.47H163.16 M158.46 570.68V574.9 M153.76 574.9H163.16" stroke="#000" stroke-width="1.65" fill="none"/>
<path d="M179.6 571.15V563.66 M174.9 563.66H184.3 M179.6 571.15V577.71 M174.9 577.71H184.3" stroke="#000" stroke-width="1.65" fill="none"/>
<path d="M200.73 571.15V564.12 M196.03 564.12H205.43 M200.73 571.15V578.17 M196.03 578.17H205.43" stroke="#000" stroke-width="1.65" fill="none"/>
<circle cx="79.49" cy="560.85" r="3.95" fill="#fff" stroke="#000" stroke-width="1.45"/>
<circle cx="88.26" cy="564.12" r="3.95" fill="#fff" stroke="#000" stroke-width="1.45"/>
<circle cx="116.2" cy="566.93" r="3.95" fill="#fff" stroke="#000" stroke-width="1.45"/>
<circle cx="137.33" cy="563.66" r="3.95" fill="#fff" stroke="#000" stroke-width="1.45"/>
<circle cx="158.46" cy="570.68" r="3.95" fill="#fff" stroke="#000" stroke-width="1.45"/>
<circle cx="179.6" cy="571.15" r="3.95" fill="#fff" stroke="#000" stroke-width="1.45"/>
<circle cx="200.73" cy="571.15" r="3.95" fill="#fff" stroke="#000" stroke-width="1.45"/>
<circle cx="221.86" cy="585.2" r="3.95" fill="#fff" stroke="#000" stroke-width="1.45"/>
<path d="M79.49 613.3 L88.26 613.3 L116.2 613.3 L137.33 613.3 L158.46 613.3 L179.6 613.3 L200.73 613.3 L221.86 613.3" stroke="#000" stroke-width="1.65" fill="none" stroke-linejoin="round"/>
<polygon points="79.49,608.6 75.04,617.55 83.94,617.55" fill="#000"/>
<polygon points="88.26,608.6 83.81,617.55 92.71,617.55" fill="#000"/>
<polygon points="116.2,608.6 111.75,617.55 120.65,617.55" fill="#000"/>
<polygon points="137.33,608.6 132.88,617.55 141.78,617.55" fill="#000"/>
<polygon points="158.46,608.6 154.01,617.55 162.91,617.55" fill="#000"/>
<polygon points="179.6,608.6 175.15,617.55 184.05,617.55" fill="#000"/>
<polygon points="200.73,608.6 196.28,617.55 205.18,617.55" fill="#000"/>
<polygon points="221.86,608.6 217.41,617.55 226.31,617.55" fill="#000"/>
<path d="M79.49 604.87 L88.26 603.46 L116.2 602.53 L137.33 602.53 L158.46 605.34 L179.6 605.34 L200.73 605.34 L221.86 605.34" stroke="#000" stroke-width="1.65" fill="none" stroke-linejoin="round"/>
<path d="M158.46 605.34V601.12 M153.76 601.12H163.16 M158.46 605.34V609.55 M153.76 609.55H163.16" stroke="#000" stroke-width="1.65" fill="none"/>
<path d="M179.6 605.34V601.12 M174.9 601.12H184.3 M179.6 605.34V609.55 M174.9 609.55H184.3" stroke="#000" stroke-width="1.65" fill="none"/>
<path d="M200.73 605.34V601.12 M196.03 601.12H205.43 M200.73 605.34V609.55 M196.03 609.55H205.43" stroke="#000" stroke-width="1.65" fill="none"/>
<path d="M221.86 605.34V601.12 M217.16 601.12H226.56 M221.86 605.34V609.55 M217.16 609.55H226.56" stroke="#000" stroke-width="1.65" fill="none"/>
<circle cx="79.49" cy="604.87" r="4.35" fill="#000"/>
<circle cx="88.26" cy="603.46" r="4.35" fill="#000"/>
<circle cx="116.2" cy="602.53" r="4.35" fill="#000"/>
<circle cx="137.33" cy="602.53" r="4.35" fill="#000"/>
<circle cx="158.46" cy="605.34" r="4.35" fill="#000"/>
<circle cx="179.6" cy="605.34" r="4.35" fill="#000"/>
<circle cx="200.73" cy="605.34" r="4.35" fill="#000"/>
<circle cx="221.86" cy="605.34" r="4.35" fill="#000"/>
<path d="M142.6 460.8H163.2" stroke="#000" stroke-width="1.65"/>
<polygon points="153,457.5 148.75,464.85 157.25,464.85" fill="#fff" stroke="#000" stroke-width="1.55" stroke-linejoin="miter"/>
<text x="167.6" y="465.51" font-size="15" class="r" textLength="67.6" lengthAdjust="spacingAndGlyphs">KI (+ IgG)</text>
<path d="M142.6 478.8H163.2" stroke="#000" stroke-width="1.65"/>
<circle cx="153" cy="478.8" r="3.95" fill="#fff" stroke="#000" stroke-width="1.45"/>
<text x="167.6" y="483.71" font-size="15" class="r" textLength="77.3" lengthAdjust="spacingAndGlyphs">WT (+ IgG)</text>
<path d="M142.6 494.6H163.2" stroke="#000" stroke-width="1.65"/>
<polygon points="153,489.9 148.55,498.85 157.45,498.85" fill="#000"/>
<text x="167.6" y="500.11" font-size="15" class="r" textLength="90.1" lengthAdjust="spacingAndGlyphs">KI (+ anti-&#945;4)</text>
<path d="M142.6 511.2H163.2" stroke="#000" stroke-width="1.65"/>
<circle cx="153" cy="511.2" r="4.35" fill="#000"/>
<text x="167.6" y="518.41" font-size="15" class="r" textLength="99.5" lengthAdjust="spacingAndGlyphs">WT (+ anti-&#945;4)</text>
<text x="35.6" y="463.6" font-size="25.5" font-weight="bold">E</text>
<path d="M293.4 613.6V470.8" stroke="#000" stroke-width="1.7" fill="none"/>
<path d="M292.5 612.7H504.9" stroke="#000" stroke-width="1.7" fill="none"/>
<path d="M289.2 612.7H293.4" stroke="#000" stroke-width="1.5"/>
<text transform="translate(286.37 617.36) scale(1 1)" font-size="15" class="r" text-anchor="end">0</text>
<path d="M289.2 565.7H293.4" stroke="#000" stroke-width="1.5"/>
<text transform="translate(286.37 570.36) scale(1 1)" font-size="15" class="r" text-anchor="end">10</text>
<path d="M289.2 518.7H293.4" stroke="#000" stroke-width="1.5"/>
<text transform="translate(286.37 523.36) scale(1 1)" font-size="15" class="r" text-anchor="end">20</text>
<path d="M289.2 471.7H293.4" stroke="#000" stroke-width="1.5"/>
<text transform="translate(286.37 476.36) scale(1 1)" font-size="15" class="r" text-anchor="end">30</text>
<path d="M293.4 612.7V617" stroke="#000" stroke-width="1.5"/>
<text x="294" y="630" font-size="15" class="r" text-anchor="middle" textLength="19.2" lengthAdjust="spacingAndGlyphs">0.1</text>
<path d="M363.6 612.7V617" stroke="#000" stroke-width="1.5"/>
<text x="363.9" y="630" font-size="15" class="r" text-anchor="middle">1</text>
<path d="M433.8 612.7V617" stroke="#000" stroke-width="1.5"/>
<text x="436" y="630" font-size="15" class="r" text-anchor="middle">10</text>
<path d="M504 612.7V617" stroke="#000" stroke-width="1.5"/>
<text x="506.7" y="630" font-size="15" class="r" text-anchor="middle">100</text>
<path d="M326.89 514 L335.66 519.64 L363.6 537.5 L384.73 561 L405.86 584.03 L427 597.66 L448.13 600.01 L469.26 600.95" stroke="#000" stroke-width="1.65" fill="none" stroke-linejoin="round"/>
<path d="M326.89 514V504.6 M322.19 504.6H331.59 M326.89 514V520.11 M322.19 520.11H331.59" stroke="#000" stroke-width="1.65" fill="none"/>
<path d="M335.66 519.64V508.83 M330.96 508.83H340.36 M335.66 519.64V528.57 M330.96 528.57H340.36" stroke="#000" stroke-width="1.65" fill="none"/>
<path d="M363.6 537.5V528.57 M358.9 528.57H368.3 M363.6 537.5V543.61 M358.9 543.61H368.3" stroke="#000" stroke-width="1.65" fill="none"/>
<path d="M384.73 561V547.84 M380.03 547.84H389.43 M384.73 561V574.16 M380.03 574.16H389.43" stroke="#000" stroke-width="1.65" fill="none"/>
<path d="M405.86 584.03V574.63 M401.16 574.63H410.56 M405.86 584.03V590.61 M401.16 590.61H410.56" stroke="#000" stroke-width="1.65" fill="none"/>
<path d="M427 597.66V592.02 M422.3 592.02H431.7 M427 597.66V602.36 M422.3 602.36H431.7" stroke="#000" stroke-width="1.65" fill="none"/>
<path d="M448.13 600.01V597.19 M443.43 597.19H452.83 M448.13 600.01V602.36 M443.43 602.36H452.83" stroke="#000" stroke-width="1.65" fill="none"/>
<polygon points="326.89,510.7 322.64,518.05 331.14,518.05" fill="#fff" stroke="#000" stroke-width="1.55" stroke-linejoin="miter"/>
<polygon points="335.66,516.34 331.41,523.69 339.91,523.69" fill="#fff" stroke="#000" stroke-width="1.55" stroke-linejoin="miter"/>
<polygon points="363.6,534.2 359.35,541.55 367.85,541.55" fill="#fff" stroke="#000" stroke-width="1.55" stroke-linejoin="miter"/>
<polygon points="384.73,557.7 380.48,565.05 388.98,565.05" fill="#fff" stroke="#000" stroke-width="1.55" stroke-linejoin="miter"/>
<polygon points="405.86,580.73 401.61,588.08 410.11,588.08" fill="#fff" stroke="#000" stroke-width="1.55" stroke-linejoin="miter"/>
<polygon points="427,594.36 422.75,601.71 431.25,601.71" fill="#fff" stroke="#000" stroke-width="1.55" stroke-linejoin="miter"/>
<polygon points="448.13,596.71 443.88,604.06 452.38,604.06" fill="#fff" stroke="#000" stroke-width="1.55" stroke-linejoin="miter"/>
<polygon points="469.26,597.65 465.01,605 473.51,605" fill="#fff" stroke="#000" stroke-width="1.55" stroke-linejoin="miter"/>
<path d="M326.89 588.73 L335.66 584.5 L363.6 581.68 L384.73 595.78 L405.86 597.66 L427 602.36 L448.13 602.83 L469.26 603.3" stroke="#000" stroke-width="1.65" fill="none" stroke-linejoin="round"/>
<path d="M326.89 588.73V579.33 M322.19 579.33H331.59 M326.89 588.73V599.07 M322.19 599.07H331.59" stroke="#000" stroke-width="1.65" fill="none"/>
<path d="M363.6 581.68V575.57 M358.9 575.57H368.3 M363.6 581.68V588.26 M358.9 588.26H368.3" stroke="#000" stroke-width="1.65" fill="none"/>
<path d="M384.73 595.78V590.61 M380.03 590.61H389.43 M384.73 595.78V600.01 M380.03 600.01H389.43" stroke="#000" stroke-width="1.65" fill="none"/>
<circle cx="326.89" cy="588.73" r="3.95" fill="#fff" stroke="#000" stroke-width="1.45"/>
<circle cx="335.66" cy="584.5" r="3.95" fill="#fff" stroke="#000" stroke-width="1.45"/>
<circle cx="363.6" cy="581.68" r="3.95" fill="#fff" stroke="#000" stroke-width="1.45"/>
<circle cx="384.73" cy="595.78" r="3.95" fill="#fff" stroke="#000" stroke-width="1.45"/>
<circle cx="405.86" cy="597.66" r="3.95" fill="#fff" stroke="#000" stroke-width="1.45"/>
<circle cx="427" cy="602.36" r="3.95" fill="#fff" stroke="#000" stroke-width="1.45"/>
<circle cx="448.13" cy="602.83" r="3.95" fill="#fff" stroke="#000" stroke-width="1.45"/>
<circle cx="469.26" cy="603.3" r="3.95" fill="#fff" stroke="#000" stroke-width="1.45"/>
<path d="M326.89 607.53 L335.66 611.29 L363.6 610.35 L384.73 612.7 L405.86 612.7 L427 612.7 L448.13 612.7 L469.26 612.7" stroke="#000" stroke-width="1.65" fill="none" stroke-linejoin="round"/>
<polygon points="326.89,602.83 322.44,611.78 331.34,611.78" fill="#000"/>
<polygon points="335.66,606.59 331.21,615.54 340.11,615.54" fill="#000"/>
<polygon points="363.6,605.65 359.15,614.6 368.05,614.6" fill="#000"/>
<polygon points="384.73,608 380.28,616.95 389.18,616.95" fill="#000"/>
<polygon points="405.86,608 401.41,616.95 410.31,616.95" fill="#000"/>
<polygon points="427,608 422.55,616.95 431.45,616.95" fill="#000"/>
<polygon points="448.13,608 443.68,616.95 452.58,616.95" fill="#000"/>
<polygon points="469.26,608 464.81,616.95 473.71,616.95" fill="#000"/>
<path d="M326.89 608.47 L335.66 611.76 L363.6 610.12 L384.73 612.42 L405.86 612.47 L427 612.47 L448.13 612.47 L469.26 612.47" stroke="#000" stroke-width="1.65" fill="none" stroke-linejoin="round"/>
<path d="M363.6 610.12V605.18 M358.9 605.18H368.3 M363.6 610.12V614.58 M358.9 614.58H368.3" stroke="#000" stroke-width="1.65" fill="none"/>
<circle cx="326.89" cy="608.47" r="4.35" fill="#000"/>
<circle cx="335.66" cy="611.76" r="4.35" fill="#000"/>
<circle cx="363.6" cy="610.12" r="4.35" fill="#000"/>
<circle cx="384.73" cy="612.42" r="4.35" fill="#000"/>
<circle cx="405.86" cy="612.47" r="4.35" fill="#000"/>
<circle cx="427" cy="612.47" r="4.35" fill="#000"/>
<circle cx="448.13" cy="612.47" r="4.35" fill="#000"/>
<circle cx="469.26" cy="612.47" r="4.35" fill="#000"/>
<path d="M392.2 462.8H412.7" stroke="#000" stroke-width="1.65"/>
<polygon points="402.6,459.5 398.35,466.85 406.85,466.85" fill="#fff" stroke="#000" stroke-width="1.55" stroke-linejoin="miter"/>
<text x="415.7" y="467.86" font-size="15" class="r" textLength="67.8" lengthAdjust="spacingAndGlyphs">KI (+ IgG)</text>
<path d="M392.2 481.2H412.7" stroke="#000" stroke-width="1.65"/>
<circle cx="402.6" cy="481.2" r="3.95" fill="#fff" stroke="#000" stroke-width="1.45"/>
<text x="415.7" y="486.06" font-size="15" class="r" textLength="77.8" lengthAdjust="spacingAndGlyphs">WT (+ IgG)</text>
<path d="M392.2 496.7H412.7" stroke="#000" stroke-width="1.65"/>
<polygon points="402.6,492 398.15,500.95 407.05,500.95" fill="#000"/>
<text x="415.7" y="502.26" font-size="15" class="r" textLength="90.2" lengthAdjust="spacingAndGlyphs">KI (+ anti-&#945;4)</text>
<path d="M392.2 513.6H412.7" stroke="#000" stroke-width="1.65"/>
<circle cx="402.6" cy="513.6" r="4.35" fill="#000"/>
<text x="415.7" y="520.46" font-size="15" class="r" textLength="100.2" lengthAdjust="spacingAndGlyphs">WT (+ anti-&#945;4)</text>
<text x="286.7" y="463.7" font-size="25.5" font-weight="bold">F</text>
<path d="M46 809.5V667.3" stroke="#000" stroke-width="1.7" fill="none"/>
<path d="M45.1 808.6H257.5" stroke="#000" stroke-width="1.7" fill="none"/>
<path d="M41.1 808.6H46" stroke="#000" stroke-width="1.5"/>
<text transform="translate(38.67 813.26) scale(1 1)" font-size="15" class="r" text-anchor="end">0</text>
<path d="M41.1 761.8H46" stroke="#000" stroke-width="1.5"/>
<text transform="translate(38.67 766.46) scale(1 1)" font-size="15" class="r" text-anchor="end">10</text>
<path d="M41.1 715H46" stroke="#000" stroke-width="1.5"/>
<text transform="translate(38.67 719.66) scale(1 1)" font-size="15" class="r" text-anchor="end">20</text>
<path d="M41.1 668.2H46" stroke="#000" stroke-width="1.5"/>
<text transform="translate(38.67 672.86) scale(1 1)" font-size="15" class="r" text-anchor="end">30</text>
<path d="M46 808.6V812.9" stroke="#000" stroke-width="1.5"/>
<text x="46.6" y="825.9" font-size="15" class="r" text-anchor="middle" textLength="19.2" lengthAdjust="spacingAndGlyphs">0.1</text>
<path d="M116.2 808.6V812.9" stroke="#000" stroke-width="1.5"/>
<text x="116.5" y="825.9" font-size="15" class="r" text-anchor="middle">1</text>
<path d="M186.4 808.6V812.9" stroke="#000" stroke-width="1.5"/>
<text x="188.6" y="825.9" font-size="15" class="r" text-anchor="middle">10</text>
<path d="M256.6 808.6V812.9" stroke="#000" stroke-width="1.5"/>
<text x="259.3" y="825.9" font-size="15" class="r" text-anchor="middle">100</text>
<path d="M79.49 760.4 L88.26 754.31 L116.2 760.86 L137.33 765.08 L158.46 770.22 L179.6 772.8 L200.73 778.65 L221.86 787.54" stroke="#000" stroke-width="1.65" fill="none" stroke-linejoin="round"/>
<path d="M79.49 760.4V756.65 M74.79 756.65H84.19 M79.49 760.4V765.08 M74.79 765.08H84.19" stroke="#000" stroke-width="1.65" fill="none"/>
<path d="M116.2 760.86V752.91 M111.5 752.91H120.9 M116.2 760.86V767.42 M111.5 767.42H120.9" stroke="#000" stroke-width="1.65" fill="none"/>
<path d="M137.33 765.08V760.4 M132.63 760.4H142.03 M137.33 765.08V770.69 M132.63 770.69H142.03" stroke="#000" stroke-width="1.65" fill="none"/>
<path d="M158.46 770.22V764.61 M153.76 764.61H163.16 M158.46 770.22V775.84 M153.76 775.84H163.16" stroke="#000" stroke-width="1.65" fill="none"/>
<circle cx="79.49" cy="760.4" r="3.95" fill="#fff" stroke="#000" stroke-width="1.45"/>
<circle cx="88.26" cy="754.31" r="3.95" fill="#fff" stroke="#000" stroke-width="1.45"/>
<circle cx="116.2" cy="760.86" r="3.95" fill="#fff" stroke="#000" stroke-width="1.45"/>
<circle cx="137.33" cy="765.08" r="3.95" fill="#fff" stroke="#000" stroke-width="1.45"/>
<circle cx="158.46" cy="770.22" r="3.95" fill="#fff" stroke="#000" stroke-width="1.45"/>
<circle cx="179.6" cy="772.8" r="3.95" fill="#fff" stroke="#000" stroke-width="1.45"/>
<circle cx="200.73" cy="778.65" r="3.95" fill="#fff" stroke="#000" stroke-width="1.45"/>
<circle cx="221.86" cy="787.54" r="3.95" fill="#fff" stroke="#000" stroke-width="1.45"/>
<path d="M79.49 766.01 L88.26 766.95 L116.2 770.22 L137.33 773.5 L158.46 776.31 L179.6 781.92 L200.73 785.9 L221.86 791.28" stroke="#000" stroke-width="1.65" fill="none" stroke-linejoin="round"/>
<path d="M79.49 766.01V754.31 M74.79 754.31H84.19 M79.49 766.01V773.5 M74.79 773.5H84.19" stroke="#000" stroke-width="1.65" fill="none"/>
<path d="M88.26 766.95V759.46 M83.56 759.46H92.96 M88.26 766.95V773.97 M83.56 773.97H92.96" stroke="#000" stroke-width="1.65" fill="none"/>
<path d="M137.33 773.5V768.82 M132.63 768.82H142.03 M137.33 773.5V778.65 M132.63 778.65H142.03" stroke="#000" stroke-width="1.65" fill="none"/>
<path d="M200.73 785.9V782.86 M196.03 782.86H205.43 M200.73 785.9V792.69 M196.03 792.69H205.43" stroke="#000" stroke-width="1.65" fill="none"/>
<path d="M221.86 791.28V773.73 M217.16 773.73H226.56 M221.86 791.28V792.22 M217.16 792.22H226.56" stroke="#000" stroke-width="1.65" fill="none"/>
<circle cx="79.49" cy="766.01" r="4.35" fill="#000"/>
<circle cx="88.26" cy="766.95" r="4.35" fill="#000"/>
<circle cx="116.2" cy="770.22" r="4.35" fill="#000"/>
<circle cx="137.33" cy="773.5" r="4.35" fill="#000"/>
<circle cx="158.46" cy="776.31" r="4.35" fill="#000"/>
<circle cx="179.6" cy="781.92" r="4.35" fill="#000"/>
<circle cx="200.73" cy="785.9" r="4.35" fill="#000"/>
<circle cx="221.86" cy="791.28" r="4.35" fill="#000"/>
<path d="M79.49 727.17 L88.26 719.21 L116.2 731.38 L137.33 736.06 L158.46 735.59 L179.6 759.46 L200.73 772.1 L221.86 785.2" stroke="#000" stroke-width="1.65" fill="none" stroke-linejoin="round"/>
<path d="M158.46 735.59V729.98 M153.76 729.98H163.16 M158.46 735.59V741.21 M153.76 741.21H163.16" stroke="#000" stroke-width="1.65" fill="none"/>
<path d="M179.6 759.46V757.12 M174.9 757.12H184.3 M179.6 759.46V766.01 M174.9 766.01H184.3" stroke="#000" stroke-width="1.65" fill="none"/>
<path d="M200.73 772.1V762.97 M196.03 762.97H205.43 M200.73 772.1V778.18 M196.03 778.18H205.43" stroke="#000" stroke-width="1.65" fill="none"/>
<polygon points="79.49,722.47 75.04,731.42 83.94,731.42" fill="#000"/>
<polygon points="88.26,714.51 83.81,723.46 92.71,723.46" fill="#000"/>
<polygon points="116.2,726.68 111.75,735.63 120.65,735.63" fill="#000"/>
<polygon points="137.33,731.36 132.88,740.31 141.78,740.31" fill="#000"/>
<polygon points="158.46,730.89 154.01,739.84 162.91,739.84" fill="#000"/>
<polygon points="179.6,754.76 175.15,763.71 184.05,763.71" fill="#000"/>
<polygon points="200.73,767.4 196.28,776.35 205.18,776.35" fill="#000"/>
<polygon points="221.86,780.5 217.41,789.45 226.31,789.45" fill="#000"/>
<path d="M79.49 703.3 L88.26 692.07 L116.2 709.85 L137.33 715.94 L158.46 732.32 L179.6 750.1 L200.73 773.03 L221.86 782.86" stroke="#000" stroke-width="1.65" fill="none" stroke-linejoin="round"/>
<path d="M79.49 703.3V694.41 M74.79 694.41H84.19 M79.49 703.3V711.26 M74.79 711.26H84.19" stroke="#000" stroke-width="1.65" fill="none"/>
<path d="M116.2 709.85V705.17 M111.5 705.17H120.9 M116.2 709.85V714.06 M111.5 714.06H120.9" stroke="#000" stroke-width="1.65" fill="none"/>
<path d="M158.46 732.32V728.57 M153.76 728.57H163.16 M158.46 732.32V736.06 M153.76 736.06H163.16" stroke="#000" stroke-width="1.65" fill="none"/>
<polygon points="79.49,700 75.24,707.35 83.74,707.35" fill="#fff" stroke="#000" stroke-width="1.55" stroke-linejoin="miter"/>
<polygon points="88.26,688.77 84.01,696.12 92.51,696.12" fill="#fff" stroke="#000" stroke-width="1.55" stroke-linejoin="miter"/>
<polygon points="116.2,706.55 111.95,713.9 120.45,713.9" fill="#fff" stroke="#000" stroke-width="1.55" stroke-linejoin="miter"/>
<polygon points="137.33,712.64 133.08,719.99 141.58,719.99" fill="#fff" stroke="#000" stroke-width="1.55" stroke-linejoin="miter"/>
<polygon points="158.46,729.02 154.21,736.37 162.71,736.37" fill="#fff" stroke="#000" stroke-width="1.55" stroke-linejoin="miter"/>
<polygon points="179.6,746.8 175.35,754.15 183.85,754.15" fill="#fff" stroke="#000" stroke-width="1.55" stroke-linejoin="miter"/>
<polygon points="200.73,769.73 196.48,777.08 204.98,777.08" fill="#fff" stroke="#000" stroke-width="1.55" stroke-linejoin="miter"/>
<polygon points="221.86,779.56 217.61,786.91 226.11,786.91" fill="#fff" stroke="#000" stroke-width="1.55" stroke-linejoin="miter"/>
<path d="M79.5 737.5L79.5 734.9M79.5 737.5L82.04 736.96M79.5 737.5L81.03 739.6M79.5 737.5L77.97 739.6M79.5 737.5L76.96 736.96" stroke="#000" stroke-width="1.55" stroke-linecap="round" fill="none"/>
<path d="M88.6 728.2L88.6 725.6M88.6 728.2L91.14 727.66M88.6 728.2L90.13 730.3M88.6 728.2L87.07 730.3M88.6 728.2L86.06 727.66" stroke="#000" stroke-width="1.55" stroke-linecap="round" fill="none"/>
<path d="M116.1 742.4L116.1 739.8M116.1 742.4L118.64 741.86M116.1 742.4L117.63 744.5M116.1 742.4L114.57 744.5M116.1 742.4L113.56 741.86" stroke="#000" stroke-width="1.55" stroke-linecap="round" fill="none"/>
<path d="M137.2 746L137.2 743.4M137.2 746L139.74 745.46M137.2 746L138.73 748.1M137.2 746L135.67 748.1M137.2 746L134.66 745.46" stroke="#000" stroke-width="1.55" stroke-linecap="round" fill="none"/>
<path d="M158.4 747.7L158.4 745.1M158.4 747.7L160.94 747.16M158.4 747.7L159.93 749.8M158.4 747.7L156.87 749.8M158.4 747.7L155.86 747.16" stroke="#000" stroke-width="1.55" stroke-linecap="round" fill="none"/>
<path d="M169.8 759.6L169.8 757M169.8 759.6L172.34 759.06M169.8 759.6L171.33 761.7M169.8 759.6L168.27 761.7M169.8 759.6L167.26 759.06" stroke="#000" stroke-width="1.55" stroke-linecap="round" fill="none"/>
<path d="M200.6 756.2L200.6 753.6M200.6 756.2L203.14 755.66M200.6 756.2L202.13 758.3M200.6 756.2L199.07 758.3M200.6 756.2L198.06 755.66" stroke="#000" stroke-width="1.55" stroke-linecap="round" fill="none"/>
<path d="M126.1 650.2H146.7" stroke="#000" stroke-width="1.65"/>
<polygon points="136.4,646.9 132.15,654.25 140.65,654.25" fill="#fff" stroke="#000" stroke-width="1.55" stroke-linejoin="miter"/>
<text x="150.3" y="653.26" font-size="15" class="r" textLength="68.3" lengthAdjust="spacingAndGlyphs">KI (+ IgG)</text>
<path d="M126.1 668.3H146.7" stroke="#000" stroke-width="1.65"/>
<circle cx="136.4" cy="668.3" r="3.95" fill="#fff" stroke="#000" stroke-width="1.45"/>
<text x="150.3" y="671.66" font-size="15" class="r" textLength="77.7" lengthAdjust="spacingAndGlyphs">WT (+ IgG)</text>
<path d="M126.1 683.8H146.7" stroke="#000" stroke-width="1.65"/>
<polygon points="136.4,679.1 131.95,688.05 140.85,688.05" fill="#000"/>
<text x="150.3" y="688.06" font-size="15" class="r" textLength="106.9" lengthAdjust="spacingAndGlyphs">KI (+ anti-&#945;4&#946;7)</text>
<path d="M126.1 700.5H146.7" stroke="#000" stroke-width="1.65"/>
<circle cx="136.4" cy="700.5" r="4.35" fill="#000"/>
<text x="150.3" y="706.06" font-size="15" class="r" textLength="116.4" lengthAdjust="spacingAndGlyphs">WT (+ anti-&#945;4&#946;7)</text>
<text x="37.1" y="660.7" font-size="25.5" font-weight="bold">G</text>
<path d="M293 810.7V668.4" stroke="#000" stroke-width="1.7" fill="none"/>
<path d="M292.1 809.8H504.5" stroke="#000" stroke-width="1.7" fill="none"/>
<path d="M289 809.8H293" stroke="#000" stroke-width="1.5"/>
<text transform="translate(285.57 814.46) scale(1 1)" font-size="15" class="r" text-anchor="end">0</text>
<path d="M289 762.97H293" stroke="#000" stroke-width="1.5"/>
<text transform="translate(285.57 767.63) scale(1 1)" font-size="15" class="r" text-anchor="end">10</text>
<path d="M289 716.13H293" stroke="#000" stroke-width="1.5"/>
<text transform="translate(285.57 720.79) scale(1 1)" font-size="15" class="r" text-anchor="end">20</text>
<path d="M289 669.3H293" stroke="#000" stroke-width="1.5"/>
<text transform="translate(285.57 673.96) scale(1 1)" font-size="15" class="r" text-anchor="end">30</text>
<path d="M293 809.8V814.1" stroke="#000" stroke-width="1.5"/>
<text x="293.6" y="827.1" font-size="15" class="r" text-anchor="middle" textLength="19.2" lengthAdjust="spacingAndGlyphs">0.1</text>
<path d="M363.2 809.8V814.1" stroke="#000" stroke-width="1.5"/>
<text x="363.5" y="827.1" font-size="15" class="r" text-anchor="middle">1</text>
<path d="M433.4 809.8V814.1" stroke="#000" stroke-width="1.5"/>
<text x="435.6" y="827.1" font-size="15" class="r" text-anchor="middle">10</text>
<path d="M503.6 809.8V814.1" stroke="#000" stroke-width="1.5"/>
<text x="506.3" y="827.1" font-size="15" class="r" text-anchor="middle">100</text>
<path d="M326.49 706.3 L335.26 717.07 L363.2 725.03 L384.33 758.28 L405.46 780.29 L426.6 790.13 L447.73 792.94 L468.86 795.28" stroke="#000" stroke-width="1.65" fill="none" stroke-linejoin="round"/>
<path d="M326.49 706.3V697.87 M321.79 697.87H331.19 M326.49 706.3V712.85 M321.79 712.85H331.19" stroke="#000" stroke-width="1.65" fill="none"/>
<path d="M384.33 758.28V741.42 M379.63 741.42H389.03 M384.33 758.28V774.67 M379.63 774.67H389.03" stroke="#000" stroke-width="1.65" fill="none"/>
<path d="M405.46 780.29V771.87 M400.76 771.87H410.16 M405.46 780.29V790.13 M400.76 790.13H410.16" stroke="#000" stroke-width="1.65" fill="none"/>
<path d="M426.6 790.13V785.45 M421.9 785.45H431.3 M426.6 790.13V793.41 M421.9 793.41H431.3" stroke="#000" stroke-width="1.65" fill="none"/>
<polygon points="326.49,703 322.24,710.35 330.74,710.35" fill="#fff" stroke="#000" stroke-width="1.55" stroke-linejoin="miter"/>
<polygon points="335.26,713.77 331.01,721.12 339.51,721.12" fill="#fff" stroke="#000" stroke-width="1.55" stroke-linejoin="miter"/>
<polygon points="363.2,721.73 358.95,729.08 367.45,729.08" fill="#fff" stroke="#000" stroke-width="1.55" stroke-linejoin="miter"/>
<polygon points="384.33,754.98 380.08,762.33 388.58,762.33" fill="#fff" stroke="#000" stroke-width="1.55" stroke-linejoin="miter"/>
<polygon points="405.46,777 401.21,784.34 409.71,784.34" fill="#fff" stroke="#000" stroke-width="1.55" stroke-linejoin="miter"/>
<polygon points="426.6,786.83 422.35,794.18 430.85,794.18" fill="#fff" stroke="#000" stroke-width="1.55" stroke-linejoin="miter"/>
<polygon points="447.73,789.64 443.48,796.99 451.98,796.99" fill="#fff" stroke="#000" stroke-width="1.55" stroke-linejoin="miter"/>
<polygon points="468.86,791.98 464.61,799.33 473.11,799.33" fill="#fff" stroke="#000" stroke-width="1.55" stroke-linejoin="miter"/>
<path d="M326.49 790.13 L335.26 785.21 L363.2 778.42 L384.33 792.94 L405.46 795.75 L426.6 798.79 L447.73 799.96 L468.86 799.96" stroke="#000" stroke-width="1.65" fill="none" stroke-linejoin="round"/>
<path d="M326.49 790.13V780.29 M321.79 780.29H331.19 M326.49 790.13V799.5 M321.79 799.5H331.19" stroke="#000" stroke-width="1.65" fill="none"/>
<path d="M335.26 785.21V777.48 M330.56 777.48H339.96 M335.26 785.21V792.94 M330.56 792.94H339.96" stroke="#000" stroke-width="1.65" fill="none"/>
<path d="M363.2 778.42V772.8 M358.5 772.8H367.9 M363.2 778.42V784.04 M358.5 784.04H367.9" stroke="#000" stroke-width="1.65" fill="none"/>
<path d="M384.33 792.94V787.32 M379.63 787.32H389.03 M384.33 792.94V798.56 M379.63 798.56H389.03" stroke="#000" stroke-width="1.65" fill="none"/>
<circle cx="326.49" cy="790.13" r="3.95" fill="#fff" stroke="#000" stroke-width="1.45"/>
<circle cx="335.26" cy="785.21" r="3.95" fill="#fff" stroke="#000" stroke-width="1.45"/>
<circle cx="363.2" cy="778.42" r="3.95" fill="#fff" stroke="#000" stroke-width="1.45"/>
<circle cx="384.33" cy="792.94" r="3.95" fill="#fff" stroke="#000" stroke-width="1.45"/>
<circle cx="405.46" cy="795.75" r="3.95" fill="#fff" stroke="#000" stroke-width="1.45"/>
<circle cx="426.6" cy="798.79" r="3.95" fill="#fff" stroke="#000" stroke-width="1.45"/>
<circle cx="447.73" cy="799.96" r="3.95" fill="#fff" stroke="#000" stroke-width="1.45"/>
<circle cx="468.86" cy="799.96" r="3.95" fill="#fff" stroke="#000" stroke-width="1.45"/>
<path d="M326.49 806.05 L335.26 807.93 L363.2 808.39 L384.33 809.8 L405.46 809.8 L426.6 809.8 L447.73 809.8 L468.86 809.8" stroke="#000" stroke-width="1.65" fill="none" stroke-linejoin="round"/>
<polygon points="326.49,801.35 322.04,810.3 330.94,810.3" fill="#000"/>
<polygon points="335.26,803.23 330.81,812.18 339.71,812.18" fill="#000"/>
<polygon points="363.2,803.69 358.75,812.64 367.65,812.64" fill="#000"/>
<polygon points="384.33,805.1 379.88,814.05 388.78,814.05" fill="#000"/>
<polygon points="405.46,805.1 401.01,814.05 409.91,814.05" fill="#000"/>
<polygon points="426.6,805.1 422.15,814.05 431.05,814.05" fill="#000"/>
<polygon points="447.73,805.1 443.28,814.05 452.18,814.05" fill="#000"/>
<polygon points="468.86,805.1 464.41,814.05 473.31,814.05" fill="#000"/>
<path d="M326.49 804.41 L335.26 806.29 L363.2 808.86 L384.33 809.57 L405.46 809.57 L426.6 809.57 L447.73 809.57 L468.86 809.57" stroke="#000" stroke-width="1.65" fill="none" stroke-linejoin="round"/>
<path d="M326.49 804.41V799.5 M321.79 799.5H331.19 M326.49 804.41V808.86 M321.79 808.86H331.19" stroke="#000" stroke-width="1.65" fill="none"/>
<path d="M335.26 806.29V803.24 M330.56 803.24H339.96 M335.26 806.29V809.8 M330.56 809.8H339.96" stroke="#000" stroke-width="1.65" fill="none"/>
<circle cx="326.49" cy="804.41" r="4.35" fill="#000"/>
<circle cx="335.26" cy="806.29" r="4.35" fill="#000"/>
<circle cx="363.2" cy="808.86" r="4.35" fill="#000"/>
<circle cx="384.33" cy="809.57" r="4.35" fill="#000"/>
<circle cx="405.46" cy="809.57" r="4.35" fill="#000"/>
<circle cx="426.6" cy="809.57" r="4.35" fill="#000"/>
<circle cx="447.73" cy="809.57" r="4.35" fill="#000"/>
<circle cx="468.86" cy="809.57" r="4.35" fill="#000"/>
<path d="M374.7 652.5H395.4" stroke="#000" stroke-width="1.65"/>
<polygon points="385.2,649.2 380.95,656.55 389.45,656.55" fill="#fff" stroke="#000" stroke-width="1.55" stroke-linejoin="miter"/>
<text x="399.4" y="656.46" font-size="15" class="r" textLength="68.1" lengthAdjust="spacingAndGlyphs">KI (+ IgG)</text>
<path d="M374.7 670.3H395.4" stroke="#000" stroke-width="1.65"/>
<circle cx="385.2" cy="670.3" r="3.95" fill="#fff" stroke="#000" stroke-width="1.45"/>
<text x="399.4" y="673.76" font-size="15" class="r" textLength="77.2" lengthAdjust="spacingAndGlyphs">WT (+ IgG)</text>
<path d="M374.7 686.1H395.4" stroke="#000" stroke-width="1.65"/>
<polygon points="385.2,681.4 380.75,690.35 389.65,690.35" fill="#000"/>
<text x="399.4" y="691.16" font-size="15" class="r" textLength="106.4" lengthAdjust="spacingAndGlyphs">KI (+ anti-&#945;4&#946;7)</text>
<path d="M374.7 702.6H395.4" stroke="#000" stroke-width="1.65"/>
<circle cx="385.2" cy="702.6" r="4.35" fill="#000"/>
<text x="399.4" y="708.66" font-size="15" class="r" textLength="116.8" lengthAdjust="spacingAndGlyphs">WT (+ anti-&#945;4&#946;7)</text>
<text x="285" y="660.9" font-size="25.5" font-weight="bold">H</text>
<path d="M43.8 1025.5V883.4" stroke="#000" stroke-width="1.7" fill="none"/>
<path d="M42.9 1024.6H255.3" stroke="#000" stroke-width="1.7" fill="none"/>
<path d="M39.6 1024.6H43.8" stroke="#000" stroke-width="1.5"/>
<text transform="translate(36.47 1029.26) scale(1 1)" font-size="15" class="r" text-anchor="end">0</text>
<path d="M39.6 977.83H43.8" stroke="#000" stroke-width="1.5"/>
<text transform="translate(36.47 982.49) scale(1 1)" font-size="15" class="r" text-anchor="end">10</text>
<path d="M39.6 931.07H43.8" stroke="#000" stroke-width="1.5"/>
<text transform="translate(36.47 935.73) scale(1 1)" font-size="15" class="r" text-anchor="end">20</text>
<path d="M39.6 884.3H43.8" stroke="#000" stroke-width="1.5"/>
<text transform="translate(36.47 888.96) scale(1 1)" font-size="15" class="r" text-anchor="end">30</text>
<path d="M43.8 1024.6V1028.9" stroke="#000" stroke-width="1.5"/>
<text x="44.4" y="1041.9" font-size="15" class="r" text-anchor="middle" textLength="19.2" lengthAdjust="spacingAndGlyphs">0.1</text>
<path d="M114 1024.6V1028.9" stroke="#000" stroke-width="1.5"/>
<text x="114.3" y="1041.9" font-size="15" class="r" text-anchor="middle">1</text>
<path d="M184.2 1024.6V1028.9" stroke="#000" stroke-width="1.5"/>
<text x="186.4" y="1041.9" font-size="15" class="r" text-anchor="middle">10</text>
<path d="M254.4 1024.6V1028.9" stroke="#000" stroke-width="1.5"/>
<text x="257.1" y="1041.9" font-size="15" class="r" text-anchor="middle">100</text>
<path d="M77.29 944.63 L86.06 926.39 L114 921.25 L135.13 923.58 L156.26 944.16 L177.4 954.92 L198.53 967.54 L219.66 984.38" stroke="#000" stroke-width="1.65" fill="none" stroke-linejoin="round"/>
<path d="M77.29 944.63V939.02 M72.59 939.02H81.99 M77.29 944.63V950.24 M72.59 950.24H81.99" stroke="#000" stroke-width="1.65" fill="none"/>
<path d="M86.06 926.39V920.31 M81.36 920.31H90.76 M86.06 926.39V931.53 M81.36 931.53H90.76" stroke="#000" stroke-width="1.65" fill="none"/>
<path d="M114 921.25V913.3 M109.3 913.3H118.7 M114 921.25V927.79 M109.3 927.79H118.7" stroke="#000" stroke-width="1.65" fill="none"/>
<path d="M135.13 923.58V916.1 M130.43 916.1H139.83 M135.13 923.58V930.6 M130.43 930.6H139.83" stroke="#000" stroke-width="1.65" fill="none"/>
<path d="M156.26 944.16V928.26 M151.56 928.26H160.96 M156.26 944.16V959.59 M151.56 959.59H160.96" stroke="#000" stroke-width="1.65" fill="none"/>
<path d="M177.4 954.92V937.61 M172.7 937.61H182.1 M177.4 954.92V970.82 M172.7 970.82H182.1" stroke="#000" stroke-width="1.65" fill="none"/>
<path d="M198.53 967.54V944.63 M193.83 944.63H203.23 M198.53 967.54V1001.22 M193.83 1001.22H203.23" stroke="#000" stroke-width="1.65" fill="none"/>
<path d="M219.66 984.38V975.96 M214.96 975.96H224.36 M219.66 984.38V991.86 M214.96 991.86H224.36" stroke="#000" stroke-width="1.65" fill="none"/>
<polygon points="77.29,941.33 73.04,948.68 81.54,948.68" fill="#fff" stroke="#000" stroke-width="1.55" stroke-linejoin="miter"/>
<polygon points="86.06,923.09 81.81,930.44 90.31,930.44" fill="#fff" stroke="#000" stroke-width="1.55" stroke-linejoin="miter"/>
<polygon points="114,917.95 109.75,925.3 118.25,925.3" fill="#fff" stroke="#000" stroke-width="1.55" stroke-linejoin="miter"/>
<polygon points="135.13,920.28 130.88,927.63 139.38,927.63" fill="#fff" stroke="#000" stroke-width="1.55" stroke-linejoin="miter"/>
<polygon points="156.26,940.86 152.01,948.21 160.51,948.21" fill="#fff" stroke="#000" stroke-width="1.55" stroke-linejoin="miter"/>
<polygon points="177.4,951.62 173.15,958.97 181.65,958.97" fill="#fff" stroke="#000" stroke-width="1.55" stroke-linejoin="miter"/>
<polygon points="198.53,964.24 194.28,971.59 202.78,971.59" fill="#fff" stroke="#000" stroke-width="1.55" stroke-linejoin="miter"/>
<polygon points="219.66,981.08 215.41,988.43 223.91,988.43" fill="#fff" stroke="#000" stroke-width="1.55" stroke-linejoin="miter"/>
<path d="M77.29 981.11 L86.06 976.43 L114 982.51 L135.13 976.43 L156.26 980.64 L177.4 987.19 L198.53 986.72 L219.66 993.27" stroke="#000" stroke-width="1.65" fill="none" stroke-linejoin="round"/>
<path d="M86.06 976.43V969.88 M81.36 969.88H90.76 M86.06 976.43V980.17 M81.36 980.17H90.76" stroke="#000" stroke-width="1.65" fill="none"/>
<path d="M114 982.51V975.96 M109.3 975.96H118.7 M114 982.51V989.06 M109.3 989.06H118.7" stroke="#000" stroke-width="1.65" fill="none"/>
<path d="M219.66 993.27V989.52 M214.96 989.52H224.36 M219.66 993.27V997.01 M214.96 997.01H224.36" stroke="#000" stroke-width="1.65" fill="none"/>
<circle cx="77.29" cy="981.11" r="3.95" fill="#fff" stroke="#000" stroke-width="1.45"/>
<circle cx="86.06" cy="976.43" r="3.95" fill="#fff" stroke="#000" stroke-width="1.45"/>
<circle cx="114" cy="982.51" r="3.95" fill="#fff" stroke="#000" stroke-width="1.45"/>
<circle cx="135.13" cy="976.43" r="3.95" fill="#fff" stroke="#000" stroke-width="1.45"/>
<circle cx="156.26" cy="980.64" r="3.95" fill="#fff" stroke="#000" stroke-width="1.45"/>
<circle cx="177.4" cy="987.19" r="3.95" fill="#fff" stroke="#000" stroke-width="1.45"/>
<circle cx="198.53" cy="986.72" r="3.95" fill="#fff" stroke="#000" stroke-width="1.45"/>
<circle cx="219.66" cy="993.27" r="3.95" fill="#fff" stroke="#000" stroke-width="1.45"/>
<path d="M77.29 978.3 L86.06 962.63 L114 962.87 L135.13 968.95 L156.26 979.24 L177.4 983.91 L198.53 998.88 L219.66 1000.75" stroke="#000" stroke-width="1.65" fill="none" stroke-linejoin="round"/>
<path d="M86.06 962.63V954.92 M81.36 954.92H90.76 M86.06 962.63V970.82 M81.36 970.82H90.76" stroke="#000" stroke-width="1.65" fill="none"/>
<path d="M114 962.87V957.72 M109.3 957.72H118.7 M114 962.87V967.08 M109.3 967.08H118.7" stroke="#000" stroke-width="1.65" fill="none"/>
<path d="M156.26 979.24V975.03 M151.56 975.03H160.96 M156.26 979.24V984.85 M151.56 984.85H160.96" stroke="#000" stroke-width="1.65" fill="none"/>
<path d="M177.4 983.91V980.17 M172.7 980.17H182.1 M177.4 983.91V990.46 M172.7 990.46H182.1" stroke="#000" stroke-width="1.65" fill="none"/>
<polygon points="77.29,973.6 72.84,982.55 81.74,982.55" fill="#000"/>
<polygon points="86.06,957.93 81.61,966.88 90.51,966.88" fill="#000"/>
<polygon points="114,958.17 109.55,967.12 118.45,967.12" fill="#000"/>
<polygon points="135.13,964.25 130.68,973.2 139.58,973.2" fill="#000"/>
<polygon points="156.26,974.54 151.81,983.49 160.71,983.49" fill="#000"/>
<polygon points="177.4,979.21 172.95,988.16 181.85,988.16" fill="#000"/>
<polygon points="198.53,994.18 194.08,1003.13 202.98,1003.13" fill="#000"/>
<polygon points="219.66,996.05 215.21,1005 224.11,1005" fill="#000"/>
<path d="M77.29 987.65 L86.06 982.98 L114 985.78 L135.13 989.06 L156.26 997.01 L177.4 1006.36 L198.53 1005.89 L219.66 1005.89" stroke="#000" stroke-width="1.65" fill="none" stroke-linejoin="round"/>
<circle cx="77.29" cy="987.65" r="4.35" fill="#000"/>
<circle cx="86.06" cy="982.98" r="4.35" fill="#000"/>
<circle cx="114" cy="985.78" r="4.35" fill="#000"/>
<circle cx="135.13" cy="989.06" r="4.35" fill="#000"/>
<circle cx="156.26" cy="997.01" r="4.35" fill="#000"/>
<circle cx="177.4" cy="1006.36" r="4.35" fill="#000"/>
<circle cx="198.53" cy="1005.89" r="4.35" fill="#000"/>
<circle cx="219.66" cy="1005.89" r="4.35" fill="#000"/>
<path d="M86.4 948.2L86.4 945.6M86.4 948.2L88.94 947.66M86.4 948.2L87.93 950.3M86.4 948.2L84.87 950.3M86.4 948.2L83.86 947.66" stroke="#000" stroke-width="1.55" stroke-linecap="round" fill="none"/>
<path d="M113.9 950.8L113.9 948.2M113.9 950.8L116.44 950.26M113.9 950.8L115.43 952.9M113.9 950.8L112.37 952.9M113.9 950.8L111.36 950.26" stroke="#000" stroke-width="1.55" stroke-linecap="round" fill="none"/>
<path d="M135.1 960.3L135.1 957.7M135.1 960.3L137.64 959.76M135.1 960.3L136.63 962.4M135.1 960.3L133.57 962.4M135.1 960.3L132.56 959.76" stroke="#000" stroke-width="1.55" stroke-linecap="round" fill="none"/>
<path d="M156.3 968.1L156.3 965.5M156.3 968.1L158.84 967.56M156.3 968.1L157.83 970.2M156.3 968.1L154.77 970.2M156.3 968.1L153.76 967.56" stroke="#000" stroke-width="1.55" stroke-linecap="round" fill="none"/>
<path d="M177.9 974.9L177.9 972.3M177.9 974.9L180.44 974.36M177.9 974.9L179.43 977M177.9 974.9L176.37 977M177.9 974.9L175.36 974.36" stroke="#000" stroke-width="1.55" stroke-linecap="round" fill="none"/>
<path d="M149.1 865.3H169.8" stroke="#000" stroke-width="1.65"/>
<polygon points="159.7,862 155.45,869.35 163.95,869.35" fill="#fff" stroke="#000" stroke-width="1.55" stroke-linejoin="miter"/>
<text x="172.3" y="869.36" font-size="15" class="r" textLength="67.2" lengthAdjust="spacingAndGlyphs">KI (+ IgG)</text>
<path d="M149.1 883.3H169.8" stroke="#000" stroke-width="1.65"/>
<circle cx="159.7" cy="883.3" r="3.95" fill="#fff" stroke="#000" stroke-width="1.45"/>
<text x="172.3" y="887.36" font-size="15" class="r" textLength="77.2" lengthAdjust="spacingAndGlyphs">WT (+ IgG)</text>
<path d="M149.1 899H169.8" stroke="#000" stroke-width="1.65"/>
<polygon points="159.7,894.3 155.25,903.25 164.15,903.25" fill="#000"/>
<text x="172.3" y="904.56" font-size="15" class="r" textLength="89.8" lengthAdjust="spacingAndGlyphs">KI (+ anti-&#946;<tspan font-size="11.5">1</tspan>)</text>
<path d="M149.1 915.5H169.8" stroke="#000" stroke-width="1.65"/>
<circle cx="159.7" cy="915.5" r="4.35" fill="#000"/>
<text x="172.3" y="922.26" font-size="15" class="r" textLength="98" lengthAdjust="spacingAndGlyphs">WT (+ anti-&#946;<tspan font-size="11.5">1</tspan>)</text>
<text x="41.4" y="872" font-size="25.5" font-weight="bold">I</text>
<path d="M293.4 1026.2V884.1" stroke="#000" stroke-width="1.7" fill="none"/>
<path d="M292.5 1025.3H504.9" stroke="#000" stroke-width="1.7" fill="none"/>
<path d="M289.3 1025.3H293.4" stroke="#000" stroke-width="1.5"/>
<text transform="translate(286.17 1029.96) scale(1 1)" font-size="15" class="r" text-anchor="end">0</text>
<path d="M289.3 978.53H293.4" stroke="#000" stroke-width="1.5"/>
<text transform="translate(286.17 983.19) scale(1 1)" font-size="15" class="r" text-anchor="end">10</text>
<path d="M289.3 931.77H293.4" stroke="#000" stroke-width="1.5"/>
<text transform="translate(286.17 936.43) scale(1 1)" font-size="15" class="r" text-anchor="end">20</text>
<path d="M289.3 885H293.4" stroke="#000" stroke-width="1.5"/>
<text transform="translate(286.17 889.66) scale(1 1)" font-size="15" class="r" text-anchor="end">30</text>
<path d="M293.4 1025.3V1029.6" stroke="#000" stroke-width="1.5"/>
<text x="294" y="1042.6" font-size="15" class="r" text-anchor="middle" textLength="19.2" lengthAdjust="spacingAndGlyphs">0.1</text>
<path d="M363.6 1025.3V1029.6" stroke="#000" stroke-width="1.5"/>
<text x="363.9" y="1042.6" font-size="15" class="r" text-anchor="middle">1</text>
<path d="M433.8 1025.3V1029.6" stroke="#000" stroke-width="1.5"/>
<text x="436" y="1042.6" font-size="15" class="r" text-anchor="middle">10</text>
<path d="M504 1025.3V1029.6" stroke="#000" stroke-width="1.5"/>
<text x="506.7" y="1042.6" font-size="15" class="r" text-anchor="middle">100</text>
<path d="M326.89 924.28 L335.66 929.9 L363.6 943.46 L384.73 972.45 L405.86 996.77 L427 1011.27 L448.13 1012.21 L469.26 1013.14" stroke="#000" stroke-width="1.65" fill="none" stroke-linejoin="round"/>
<path d="M326.89 924.28V918.2 M322.19 918.2H331.59 M326.89 924.28V928.96 M322.19 928.96H331.59" stroke="#000" stroke-width="1.65" fill="none"/>
<path d="M335.66 929.9V922.88 M330.96 922.88H340.36 M335.66 929.9V934.57 M330.96 934.57H340.36" stroke="#000" stroke-width="1.65" fill="none"/>
<path d="M363.6 943.46V935.51 M358.9 935.51H368.3 M363.6 943.46V948.6 M358.9 948.6H368.3" stroke="#000" stroke-width="1.65" fill="none"/>
<path d="M384.73 972.45V960.29 M380.03 960.29H389.43 M384.73 972.45V983.68 M380.03 983.68H389.43" stroke="#000" stroke-width="1.65" fill="none"/>
<path d="M405.86 996.77V987.89 M401.16 987.89H410.56 M405.86 996.77V1001.92 M401.16 1001.92H410.56" stroke="#000" stroke-width="1.65" fill="none"/>
<path d="M427 1011.27V1005.66 M422.3 1005.66H431.7 M427 1011.27V1015.01 M422.3 1015.01H431.7" stroke="#000" stroke-width="1.65" fill="none"/>
<polygon points="326.89,920.98 322.64,928.33 331.14,928.33" fill="#fff" stroke="#000" stroke-width="1.55" stroke-linejoin="miter"/>
<polygon points="335.66,926.6 331.41,933.95 339.91,933.95" fill="#fff" stroke="#000" stroke-width="1.55" stroke-linejoin="miter"/>
<polygon points="363.6,940.16 359.35,947.51 367.85,947.51" fill="#fff" stroke="#000" stroke-width="1.55" stroke-linejoin="miter"/>
<polygon points="384.73,969.15 380.48,976.5 388.98,976.5" fill="#fff" stroke="#000" stroke-width="1.55" stroke-linejoin="miter"/>
<polygon points="405.86,993.47 401.61,1000.82 410.11,1000.82" fill="#fff" stroke="#000" stroke-width="1.55" stroke-linejoin="miter"/>
<polygon points="427,1007.97 422.75,1015.32 431.25,1015.32" fill="#fff" stroke="#000" stroke-width="1.55" stroke-linejoin="miter"/>
<polygon points="448.13,1008.91 443.88,1016.26 452.38,1016.26" fill="#fff" stroke="#000" stroke-width="1.55" stroke-linejoin="miter"/>
<polygon points="469.26,1009.84 465.01,1017.19 473.51,1017.19" fill="#fff" stroke="#000" stroke-width="1.55" stroke-linejoin="miter"/>
<path d="M326.89 1002.85 L335.66 999.58 L363.6 987.42 L384.73 1007.53 L405.86 1010.8 L427 1015.01 L448.13 1015.48 L469.26 1015.95" stroke="#000" stroke-width="1.65" fill="none" stroke-linejoin="round"/>
<circle cx="326.89" cy="1002.85" r="3.95" fill="#fff" stroke="#000" stroke-width="1.45"/>
<circle cx="335.66" cy="999.58" r="3.95" fill="#fff" stroke="#000" stroke-width="1.45"/>
<circle cx="363.6" cy="987.42" r="3.95" fill="#fff" stroke="#000" stroke-width="1.45"/>
<circle cx="384.73" cy="1007.53" r="3.95" fill="#fff" stroke="#000" stroke-width="1.45"/>
<circle cx="405.86" cy="1010.8" r="3.95" fill="#fff" stroke="#000" stroke-width="1.45"/>
<circle cx="427" cy="1015.01" r="3.95" fill="#fff" stroke="#000" stroke-width="1.45"/>
<circle cx="448.13" cy="1015.48" r="3.95" fill="#fff" stroke="#000" stroke-width="1.45"/>
<circle cx="469.26" cy="1015.95" r="3.95" fill="#fff" stroke="#000" stroke-width="1.45"/>
<path d="M326.89 936.44 L335.66 940.65 L363.6 950.94 L384.73 973.39 L405.86 997.71 L427 1011.27 L448.13 1013.14 L469.26 1014.54" stroke="#000" stroke-width="1.65" fill="none" stroke-linejoin="round"/>
<path d="M384.73 973.39V969.18 M380.03 969.18H389.43 M384.73 973.39V987.89 M380.03 987.89H389.43" stroke="#000" stroke-width="1.65" fill="none"/>
<polygon points="326.89,931.74 322.44,940.69 331.34,940.69" fill="#000"/>
<polygon points="335.66,935.95 331.21,944.9 340.11,944.9" fill="#000"/>
<polygon points="363.6,946.24 359.15,955.19 368.05,955.19" fill="#000"/>
<polygon points="384.73,968.69 380.28,977.64 389.18,977.64" fill="#000"/>
<polygon points="405.86,993.01 401.41,1001.96 410.31,1001.96" fill="#000"/>
<polygon points="427,1006.57 422.55,1015.52 431.45,1015.52" fill="#000"/>
<polygon points="448.13,1008.44 443.68,1017.39 452.58,1017.39" fill="#000"/>
<polygon points="469.26,1009.84 464.81,1018.79 473.71,1018.79" fill="#000"/>
<path d="M326.89 1004.02 L335.66 999.11 L363.6 991.63 L384.73 1008.93 L405.86 1011.74 L427 1014.54 L448.13 1015.01 L469.26 1015.95" stroke="#000" stroke-width="1.65" fill="none" stroke-linejoin="round"/>
<path d="M326.89 1004.02V994.43 M322.19 994.43H331.59 M326.89 1004.02V1010.33 M322.19 1010.33H331.59" stroke="#000" stroke-width="1.65" fill="none"/>
<path d="M335.66 999.11V989.76 M330.96 989.76H340.36 M335.66 999.11V1008 M330.96 1008H340.36" stroke="#000" stroke-width="1.65" fill="none"/>
<path d="M384.73 1008.93V1000.98 M380.03 1000.98H389.43 M384.73 1008.93V1014.08 M380.03 1014.08H389.43" stroke="#000" stroke-width="1.65" fill="none"/>
<circle cx="326.89" cy="1004.02" r="4.35" fill="#000"/>
<circle cx="335.66" cy="999.11" r="4.35" fill="#000"/>
<circle cx="363.6" cy="991.63" r="4.35" fill="#000"/>
<circle cx="384.73" cy="1008.93" r="4.35" fill="#000"/>
<circle cx="405.86" cy="1011.74" r="4.35" fill="#000"/>
<circle cx="427" cy="1014.54" r="4.35" fill="#000"/>
<circle cx="448.13" cy="1015.01" r="4.35" fill="#000"/>
<circle cx="469.26" cy="1015.95" r="4.35" fill="#000"/>
<path d="M327.3 948.8L327.3 946.2M327.3 948.8L329.84 948.26M327.3 948.8L328.83 950.9M327.3 948.8L325.77 950.9M327.3 948.8L324.76 948.26" stroke="#000" stroke-width="1.55" stroke-linecap="round" fill="none"/>
<path d="M336.2 953.3L336.2 950.7M336.2 953.3L338.74 952.76M336.2 953.3L337.73 955.4M336.2 953.3L334.67 955.4M336.2 953.3L333.66 952.76" stroke="#000" stroke-width="1.55" stroke-linecap="round" fill="none"/>
<path d="M363.7 961.9L363.7 959.3M363.7 961.9L366.24 961.36M363.7 961.9L365.23 964M363.7 961.9L362.17 964M363.7 961.9L361.16 961.36" stroke="#000" stroke-width="1.55" stroke-linecap="round" fill="none"/>
<path d="M393.9 868.8H414.8" stroke="#000" stroke-width="1.65"/>
<polygon points="404.6,865.5 400.35,872.85 408.85,872.85" fill="#fff" stroke="#000" stroke-width="1.55" stroke-linejoin="miter"/>
<text x="418.3" y="871.46" font-size="15" class="r" textLength="68.2" lengthAdjust="spacingAndGlyphs">KI (+ IgG)</text>
<path d="M393.9 886.9H414.8" stroke="#000" stroke-width="1.65"/>
<circle cx="404.6" cy="886.9" r="3.95" fill="#fff" stroke="#000" stroke-width="1.45"/>
<text x="418.3" y="889.76" font-size="15" class="r" textLength="76.3" lengthAdjust="spacingAndGlyphs">WT (+ IgG)</text>
<path d="M393.9 902.6H414.8" stroke="#000" stroke-width="1.65"/>
<polygon points="404.6,897.9 400.15,906.85 409.05,906.85" fill="#000"/>
<text x="418.3" y="905.86" font-size="15" class="r" textLength="88.6" lengthAdjust="spacingAndGlyphs">KI (+ anti-&#946;<tspan font-size="11.5">1</tspan>)</text>
<path d="M393.9 919.2H414.8" stroke="#000" stroke-width="1.65"/>
<circle cx="404.6" cy="919.2" r="4.35" fill="#000"/>
<text x="418.3" y="924.36" font-size="15" class="r" textLength="98.2" lengthAdjust="spacingAndGlyphs">WT (+ anti-&#946;<tspan font-size="11.5">1</tspan>)</text>
<text x="283.6" y="871.9" font-size="25.5" font-weight="bold">J</text>
<text x="106.6" y="14" font-size="20" font-weight="bold" textLength="69.6" lengthAdjust="spacingAndGlyphs">VCAM-1</text>
<text x="344.6" y="14" font-size="20" font-weight="bold" textLength="99" lengthAdjust="spacingAndGlyphs">MAdCAM-1</text>
<text transform="translate(11.5 660.0) rotate(-90)" font-size="16" class="r" textLength="229.5" lengthAdjust="spacingAndGlyphs">Number of firmly adherent cells</text>
<text x="181.8" y="1068.6" font-size="16" class="r" textLength="157.3" lengthAdjust="spacingAndGlyphs">Shear stress (dyn/cm</text>
<text x="341.3" y="1062.8" font-size="11.5" class="r" textLength="7.6" lengthAdjust="spacingAndGlyphs">2</text>
<text x="349.2" y="1068.6" font-size="16" class="r" textLength="5.4" lengthAdjust="spacingAndGlyphs">)</text>
</svg>
</body></html>
